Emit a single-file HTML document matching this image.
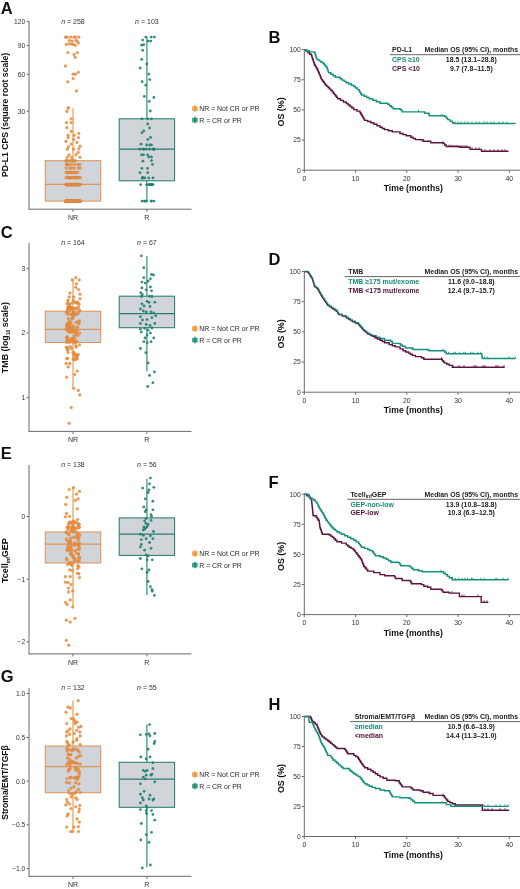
<!DOCTYPE html>
<html><head><meta charset="utf-8"><style>
html,body{margin:0;padding:0;background:#fff;}
svg{display:block;font-family:"Liberation Sans", sans-serif;will-change:transform;}
</style></head><body>
<svg width="520" height="889" viewBox="0 0 520 889">
<rect width="520" height="889" fill="#fff"/>
<text x="0.70" y="14.30" font-size="16.5" text-anchor="start" font-weight="bold" fill="#111" >A</text>
<line x1="29.00" y1="21.30" x2="29.00" y2="209.20" stroke="#6a6a6a" stroke-width="1"/>
<line x1="28.50" y1="209.20" x2="191.50" y2="209.20" stroke="#6a6a6a" stroke-width="1"/>
<line x1="26.50" y1="21.30" x2="29.00" y2="21.30" stroke="#6a6a6a" stroke-width="1"/>
<text x="25.20" y="23.60" font-size="6.7" text-anchor="end" font-weight="normal" fill="#333" >120</text>
<line x1="26.50" y1="45.40" x2="29.00" y2="45.40" stroke="#6a6a6a" stroke-width="1"/>
<text x="25.20" y="47.70" font-size="6.7" text-anchor="end" font-weight="normal" fill="#333" >90</text>
<line x1="26.50" y1="74.30" x2="29.00" y2="74.30" stroke="#6a6a6a" stroke-width="1"/>
<text x="25.20" y="76.60" font-size="6.7" text-anchor="end" font-weight="normal" fill="#333" >60</text>
<line x1="26.50" y1="111.20" x2="29.00" y2="111.20" stroke="#6a6a6a" stroke-width="1"/>
<text x="25.20" y="113.50" font-size="6.7" text-anchor="end" font-weight="normal" fill="#333" >30</text>
<line x1="73.00" y1="209.20" x2="73.00" y2="211.70" stroke="#6a6a6a" stroke-width="1"/>
<text x="73.00" y="220.20" font-size="7" text-anchor="middle" font-weight="normal" fill="#333" >NR</text>
<line x1="146.90" y1="209.20" x2="146.90" y2="211.70" stroke="#6a6a6a" stroke-width="1"/>
<text x="146.90" y="220.20" font-size="7" text-anchor="middle" font-weight="normal" fill="#333" >R</text>
<text x="73.00" y="23.50" font-size="7" text-anchor="middle" font-weight="normal" fill="#333" ><tspan font-style="italic">n</tspan> = 258</text>
<text x="146.90" y="23.50" font-size="7" text-anchor="middle" font-weight="normal" fill="#333" ><tspan font-style="italic">n</tspan> = 103</text>
<text transform="translate(8.3,114.85) rotate(-90)" font-size="8.6" font-weight="bold" text-anchor="middle" fill="#111">PD-L1 CPS (square root scale)</text>
<line x1="73.00" y1="108.30" x2="73.00" y2="160.70" stroke="#f0922e" stroke-width="1.1"/>
<rect x="45.30" y="160.70" width="55.40" height="40.40" fill="#d1d4d8" stroke="#dc955c" stroke-width="1.05"/>
<line x1="45.30" y1="184.30" x2="100.70" y2="184.30" stroke="#dc955c" stroke-width="1.25"/>
<line x1="146.90" y1="36.60" x2="146.90" y2="118.80" stroke="#128a72" stroke-width="1.1"/>
<line x1="146.90" y1="180.80" x2="146.90" y2="201.10" stroke="#128a72" stroke-width="1.1"/>
<rect x="119.20" y="118.80" width="55.40" height="62.00" fill="#d1d4d8" stroke="#2a7d70" stroke-width="1.05"/>
<line x1="119.20" y1="149.20" x2="174.60" y2="149.20" stroke="#2a7d70" stroke-width="1.25"/>
<rect x="192.1" y="106.30" width="5.6" height="4.6" fill="#f0922e" opacity="0.8"/>
<rect x="194.3" y="105.20" width="1.4" height="6.6" fill="#f0922e" opacity="0.9"/>
<text x="199.20" y="111.00" font-size="6.95" text-anchor="start" font-weight="normal" fill="#2a2a2a" >NR = Not CR or PR</text>
<rect x="192.1" y="117.80" width="5.6" height="4.6" fill="#128a72" opacity="0.8"/>
<rect x="194.3" y="116.70" width="1.4" height="6.6" fill="#128a72" opacity="0.9"/>
<text x="199.20" y="122.50" font-size="6.95" text-anchor="start" font-weight="normal" fill="#2a2a2a" >R = CR or PR</text>
<text x="0.70" y="237.50" font-size="16.5" text-anchor="start" font-weight="bold" fill="#111" >C</text>
<line x1="29.00" y1="243.00" x2="29.00" y2="431.40" stroke="#6a6a6a" stroke-width="1"/>
<line x1="28.50" y1="431.40" x2="191.50" y2="431.40" stroke="#6a6a6a" stroke-width="1"/>
<line x1="26.50" y1="268.30" x2="29.00" y2="268.30" stroke="#6a6a6a" stroke-width="1"/>
<text x="25.20" y="270.60" font-size="6.7" text-anchor="end" font-weight="normal" fill="#333" >3</text>
<line x1="26.50" y1="333.00" x2="29.00" y2="333.00" stroke="#6a6a6a" stroke-width="1"/>
<text x="25.20" y="335.30" font-size="6.7" text-anchor="end" font-weight="normal" fill="#333" >2</text>
<line x1="26.50" y1="397.70" x2="29.00" y2="397.70" stroke="#6a6a6a" stroke-width="1"/>
<text x="25.20" y="400.00" font-size="6.7" text-anchor="end" font-weight="normal" fill="#333" >1</text>
<line x1="73.00" y1="431.40" x2="73.00" y2="433.90" stroke="#6a6a6a" stroke-width="1"/>
<text x="73.00" y="442.40" font-size="7" text-anchor="middle" font-weight="normal" fill="#333" >NR</text>
<line x1="146.90" y1="431.40" x2="146.90" y2="433.90" stroke="#6a6a6a" stroke-width="1"/>
<text x="146.90" y="442.40" font-size="7" text-anchor="middle" font-weight="normal" fill="#333" >R</text>
<text x="73.00" y="245.20" font-size="7" text-anchor="middle" font-weight="normal" fill="#333" ><tspan font-style="italic">n</tspan> = 164</text>
<text x="146.90" y="245.20" font-size="7" text-anchor="middle" font-weight="normal" fill="#333" ><tspan font-style="italic">n</tspan> = 67</text>
<text transform="translate(8.3,337.6) rotate(-90)" font-size="8.9" font-weight="bold" text-anchor="middle" fill="#111">TMB (log<tspan font-size="5" dy="2">10</tspan><tspan dy="-2"> scale)</tspan></text>
<line x1="73.00" y1="279.00" x2="73.00" y2="311.20" stroke="#f0922e" stroke-width="1.1"/>
<line x1="73.00" y1="342.50" x2="73.00" y2="387.70" stroke="#f0922e" stroke-width="1.1"/>
<rect x="45.30" y="311.20" width="55.40" height="31.30" fill="#d1d4d8" stroke="#dc955c" stroke-width="1.05"/>
<line x1="45.30" y1="329.40" x2="100.70" y2="329.40" stroke="#dc955c" stroke-width="1.25"/>
<line x1="146.90" y1="256.20" x2="146.90" y2="296.20" stroke="#128a72" stroke-width="1.1"/>
<line x1="146.90" y1="327.70" x2="146.90" y2="371.50" stroke="#128a72" stroke-width="1.1"/>
<rect x="119.20" y="296.20" width="55.40" height="31.50" fill="#d1d4d8" stroke="#2a7d70" stroke-width="1.05"/>
<line x1="119.20" y1="313.50" x2="174.60" y2="313.50" stroke="#2a7d70" stroke-width="1.25"/>
<rect x="192.1" y="326.30" width="5.6" height="4.6" fill="#f0922e" opacity="0.8"/>
<rect x="194.3" y="325.20" width="1.4" height="6.6" fill="#f0922e" opacity="0.9"/>
<text x="199.20" y="331.00" font-size="6.95" text-anchor="start" font-weight="normal" fill="#2a2a2a" >NR = Not CR or PR</text>
<rect x="192.1" y="337.80" width="5.6" height="4.6" fill="#128a72" opacity="0.8"/>
<rect x="194.3" y="336.70" width="1.4" height="6.6" fill="#128a72" opacity="0.9"/>
<text x="199.20" y="342.50" font-size="6.95" text-anchor="start" font-weight="normal" fill="#2a2a2a" >R = CR or PR</text>
<text x="0.70" y="459.20" font-size="16.5" text-anchor="start" font-weight="bold" fill="#111" >E</text>
<line x1="29.00" y1="465.00" x2="29.00" y2="653.90" stroke="#6a6a6a" stroke-width="1"/>
<line x1="28.50" y1="653.90" x2="191.50" y2="653.90" stroke="#6a6a6a" stroke-width="1"/>
<line x1="26.50" y1="516.50" x2="29.00" y2="516.50" stroke="#6a6a6a" stroke-width="1"/>
<text x="25.20" y="518.80" font-size="6.7" text-anchor="end" font-weight="normal" fill="#333" >0</text>
<line x1="26.50" y1="579.20" x2="29.00" y2="579.20" stroke="#6a6a6a" stroke-width="1"/>
<text x="25.20" y="581.50" font-size="6.7" text-anchor="end" font-weight="normal" fill="#333" >−1</text>
<line x1="26.50" y1="641.90" x2="29.00" y2="641.90" stroke="#6a6a6a" stroke-width="1"/>
<text x="25.20" y="644.20" font-size="6.7" text-anchor="end" font-weight="normal" fill="#333" >−2</text>
<line x1="73.00" y1="653.90" x2="73.00" y2="656.40" stroke="#6a6a6a" stroke-width="1"/>
<text x="73.00" y="664.90" font-size="7" text-anchor="middle" font-weight="normal" fill="#333" >NR</text>
<line x1="146.90" y1="653.90" x2="146.90" y2="656.40" stroke="#6a6a6a" stroke-width="1"/>
<text x="146.90" y="664.90" font-size="7" text-anchor="middle" font-weight="normal" fill="#333" >R</text>
<text x="73.00" y="467.20" font-size="7" text-anchor="middle" font-weight="normal" fill="#333" ><tspan font-style="italic">n</tspan> = 138</text>
<text x="146.90" y="467.20" font-size="7" text-anchor="middle" font-weight="normal" fill="#333" ><tspan font-style="italic">n</tspan> = 56</text>
<text transform="translate(8.3,560.6) rotate(-90)" font-size="9" font-weight="bold" text-anchor="middle" fill="#111">Tcell<tspan font-size="5" dy="2">inf</tspan><tspan dy="-2">GEP</tspan></text>
<line x1="73.00" y1="487.00" x2="73.00" y2="532.00" stroke="#f0922e" stroke-width="1.1"/>
<line x1="73.00" y1="563.00" x2="73.00" y2="607.70" stroke="#f0922e" stroke-width="1.1"/>
<rect x="45.30" y="532.00" width="55.40" height="31.00" fill="#d1d4d8" stroke="#dc955c" stroke-width="1.05"/>
<line x1="45.30" y1="544.20" x2="100.70" y2="544.20" stroke="#dc955c" stroke-width="1.25"/>
<line x1="146.90" y1="478.70" x2="146.90" y2="517.90" stroke="#128a72" stroke-width="1.1"/>
<line x1="146.90" y1="555.40" x2="146.90" y2="595.00" stroke="#128a72" stroke-width="1.1"/>
<rect x="119.20" y="517.90" width="55.40" height="37.50" fill="#d1d4d8" stroke="#2a7d70" stroke-width="1.05"/>
<line x1="119.20" y1="534.20" x2="174.60" y2="534.20" stroke="#2a7d70" stroke-width="1.25"/>
<rect x="192.1" y="551.30" width="5.6" height="4.6" fill="#f0922e" opacity="0.8"/>
<rect x="194.3" y="550.20" width="1.4" height="6.6" fill="#f0922e" opacity="0.9"/>
<text x="199.20" y="556.00" font-size="6.95" text-anchor="start" font-weight="normal" fill="#2a2a2a" >NR = Not CR or PR</text>
<rect x="192.1" y="562.80" width="5.6" height="4.6" fill="#128a72" opacity="0.8"/>
<rect x="194.3" y="561.70" width="1.4" height="6.6" fill="#128a72" opacity="0.9"/>
<text x="199.20" y="567.50" font-size="6.95" text-anchor="start" font-weight="normal" fill="#2a2a2a" >R = CR or PR</text>
<text x="0.70" y="682.00" font-size="16.5" text-anchor="start" font-weight="bold" fill="#111" >G</text>
<line x1="29.00" y1="688.00" x2="29.00" y2="876.30" stroke="#6a6a6a" stroke-width="1"/>
<line x1="28.50" y1="876.30" x2="191.50" y2="876.30" stroke="#6a6a6a" stroke-width="1"/>
<line x1="26.50" y1="693.60" x2="29.00" y2="693.60" stroke="#6a6a6a" stroke-width="1"/>
<text x="25.20" y="695.90" font-size="6.7" text-anchor="end" font-weight="normal" fill="#333" >1.0</text>
<line x1="26.50" y1="737.50" x2="29.00" y2="737.50" stroke="#6a6a6a" stroke-width="1"/>
<text x="25.20" y="739.80" font-size="6.7" text-anchor="end" font-weight="normal" fill="#333" >0.5</text>
<line x1="26.50" y1="781.20" x2="29.00" y2="781.20" stroke="#6a6a6a" stroke-width="1"/>
<text x="25.20" y="783.50" font-size="6.7" text-anchor="end" font-weight="normal" fill="#333" >0.0</text>
<line x1="26.50" y1="824.90" x2="29.00" y2="824.90" stroke="#6a6a6a" stroke-width="1"/>
<text x="25.20" y="827.20" font-size="6.7" text-anchor="end" font-weight="normal" fill="#333" >−0.5</text>
<line x1="26.50" y1="868.60" x2="29.00" y2="868.60" stroke="#6a6a6a" stroke-width="1"/>
<text x="25.20" y="870.90" font-size="6.7" text-anchor="end" font-weight="normal" fill="#333" >−1.0</text>
<line x1="73.00" y1="876.30" x2="73.00" y2="878.80" stroke="#6a6a6a" stroke-width="1"/>
<text x="73.00" y="887.30" font-size="7" text-anchor="middle" font-weight="normal" fill="#333" >NR</text>
<line x1="146.90" y1="876.30" x2="146.90" y2="878.80" stroke="#6a6a6a" stroke-width="1"/>
<text x="146.90" y="887.30" font-size="7" text-anchor="middle" font-weight="normal" fill="#333" >R</text>
<text x="73.00" y="690.20" font-size="7" text-anchor="middle" font-weight="normal" fill="#333" ><tspan font-style="italic">n</tspan> = 132</text>
<text x="146.90" y="690.20" font-size="7" text-anchor="middle" font-weight="normal" fill="#333" ><tspan font-style="italic">n</tspan> = 55</text>
<text transform="translate(8.3,782.5) rotate(-90)" font-size="8.56" font-weight="bold" text-anchor="middle" fill="#111">Stroma/EMT/TGFβ</text>
<line x1="73.00" y1="700.40" x2="73.00" y2="746.00" stroke="#f0922e" stroke-width="1.1"/>
<line x1="73.00" y1="792.70" x2="73.00" y2="832.00" stroke="#f0922e" stroke-width="1.1"/>
<rect x="45.30" y="746.00" width="55.40" height="46.70" fill="#d1d4d8" stroke="#dc955c" stroke-width="1.05"/>
<line x1="45.30" y1="766.70" x2="100.70" y2="766.70" stroke="#dc955c" stroke-width="1.25"/>
<line x1="146.90" y1="724.60" x2="146.90" y2="762.30" stroke="#128a72" stroke-width="1.1"/>
<line x1="146.90" y1="807.30" x2="146.90" y2="867.30" stroke="#128a72" stroke-width="1.1"/>
<rect x="119.20" y="762.30" width="55.40" height="45.00" fill="#d1d4d8" stroke="#2a7d70" stroke-width="1.05"/>
<line x1="119.20" y1="779.00" x2="174.60" y2="779.00" stroke="#2a7d70" stroke-width="1.25"/>
<rect x="192.1" y="772.30" width="5.6" height="4.6" fill="#f0922e" opacity="0.8"/>
<rect x="194.3" y="771.20" width="1.4" height="6.6" fill="#f0922e" opacity="0.9"/>
<text x="199.20" y="777.00" font-size="6.95" text-anchor="start" font-weight="normal" fill="#2a2a2a" >NR = Not CR or PR</text>
<rect x="192.1" y="783.80" width="5.6" height="4.6" fill="#128a72" opacity="0.8"/>
<rect x="194.3" y="782.70" width="1.4" height="6.6" fill="#128a72" opacity="0.9"/>
<text x="199.20" y="788.50" font-size="6.95" text-anchor="start" font-weight="normal" fill="#2a2a2a" >R = CR or PR</text>
<g fill="#ef8f35" fill-opacity="0.9" stroke="#c58050" stroke-width="0.35" stroke-opacity="0.8"><circle cx="67.00" cy="37.20" r="1.4"/><circle cx="70.50" cy="37.20" r="1.4"/><circle cx="72.00" cy="44.20" r="1.4"/><circle cx="77.00" cy="41.00" r="1.4"/><circle cx="65.40" cy="37.20" r="1.4"/><circle cx="74.00" cy="37.20" r="1.4"/><circle cx="75.50" cy="37.20" r="1.4"/><circle cx="78.80" cy="37.20" r="1.4"/><circle cx="69.20" cy="40.60" r="1.4"/><circle cx="72.10" cy="41.10" r="1.4"/><circle cx="76.00" cy="40.60" r="1.4"/><circle cx="66.30" cy="44.40" r="1.4"/><circle cx="69.20" cy="44.00" r="1.4"/><circle cx="73.10" cy="44.40" r="1.4"/><circle cx="75.50" cy="45.40" r="1.4"/><circle cx="78.40" cy="43.00" r="1.4"/><circle cx="67.80" cy="52.60" r="1.4"/><circle cx="74.00" cy="54.50" r="1.4"/><circle cx="77.40" cy="52.60" r="1.4"/><circle cx="75.20" cy="57.40" r="1.4"/><circle cx="65.40" cy="66.00" r="1.4"/><circle cx="73.10" cy="74.20" r="1.4"/><circle cx="75.50" cy="74.20" r="1.4"/><circle cx="78.40" cy="72.30" r="1.4"/><circle cx="73.10" cy="78.60" r="1.4"/><circle cx="67.80" cy="81.90" r="1.4"/><circle cx="76.40" cy="91.00" r="1.4"/><circle cx="68.30" cy="107.90" r="1.4"/><circle cx="68.10" cy="108.10" r="1.4"/><circle cx="66.90" cy="111.50" r="1.4"/><circle cx="71.20" cy="118.80" r="1.4"/><circle cx="66.50" cy="122.70" r="1.4"/><circle cx="71.20" cy="122.70" r="1.4"/><circle cx="66.90" cy="127.70" r="1.4"/><circle cx="71.20" cy="131.50" r="1.4"/><circle cx="78.80" cy="133.50" r="1.4"/><circle cx="68.10" cy="135.40" r="1.4"/><circle cx="74.20" cy="135.40" r="1.4"/><circle cx="68.10" cy="137.70" r="1.4"/><circle cx="78.50" cy="137.70" r="1.4"/><circle cx="73.80" cy="139.60" r="1.4"/><circle cx="71.20" cy="144.20" r="1.4"/><circle cx="68.50" cy="146.90" r="1.4"/><circle cx="67.30" cy="149.20" r="1.4"/><circle cx="73.50" cy="149.20" r="1.4"/><circle cx="80.00" cy="146.20" r="1.4"/><circle cx="78.80" cy="148.80" r="1.4"/><circle cx="78.10" cy="152.30" r="1.4"/><circle cx="80.00" cy="157.30" r="1.4"/><circle cx="67.30" cy="157.30" r="1.4"/><circle cx="71.50" cy="157.30" r="1.4"/><circle cx="69.00" cy="154.80" r="1.4"/><circle cx="76.00" cy="154.80" r="1.4"/><circle cx="66.00" cy="141.50" r="1.4"/><circle cx="77.00" cy="142.50" r="1.4"/><circle cx="70.36" cy="160.80" r="1.4"/><circle cx="67.76" cy="160.80" r="1.4"/><circle cx="75.26" cy="160.80" r="1.4"/><circle cx="66.59" cy="160.80" r="1.4"/><circle cx="73.54" cy="160.80" r="1.4"/><circle cx="70.99" cy="160.80" r="1.4"/><circle cx="66.37" cy="160.80" r="1.4"/><circle cx="73.11" cy="160.80" r="1.4"/><circle cx="66.06" cy="160.80" r="1.4"/><circle cx="72.00" cy="160.80" r="1.4"/><circle cx="66.55" cy="164.60" r="1.4"/><circle cx="66.86" cy="164.60" r="1.4"/><circle cx="71.87" cy="164.60" r="1.4"/><circle cx="77.90" cy="164.60" r="1.4"/><circle cx="67.36" cy="164.60" r="1.4"/><circle cx="68.85" cy="164.60" r="1.4"/><circle cx="74.91" cy="164.60" r="1.4"/><circle cx="79.72" cy="164.60" r="1.4"/><circle cx="74.16" cy="168.10" r="1.4"/><circle cx="71.45" cy="168.10" r="1.4"/><circle cx="80.14" cy="168.10" r="1.4"/><circle cx="66.20" cy="168.10" r="1.4"/><circle cx="78.38" cy="168.10" r="1.4"/><circle cx="69.84" cy="168.10" r="1.4"/><circle cx="67.66" cy="172.50" r="1.4"/><circle cx="67.27" cy="172.50" r="1.4"/><circle cx="70.13" cy="172.50" r="1.4"/><circle cx="77.74" cy="172.50" r="1.4"/><circle cx="68.21" cy="172.50" r="1.4"/><circle cx="74.22" cy="172.50" r="1.4"/><circle cx="75.08" cy="172.50" r="1.4"/><circle cx="71.09" cy="172.50" r="1.4"/><circle cx="73.72" cy="172.50" r="1.4"/><circle cx="66.44" cy="172.50" r="1.4"/><circle cx="66.39" cy="172.50" r="1.4"/><circle cx="68.59" cy="172.50" r="1.4"/><circle cx="75.71" cy="172.50" r="1.4"/><circle cx="71.91" cy="172.50" r="1.4"/><circle cx="70.21" cy="172.50" r="1.4"/><circle cx="74.28" cy="172.50" r="1.4"/><circle cx="72.30" cy="177.70" r="1.4"/><circle cx="70.00" cy="177.70" r="1.4"/><circle cx="77.42" cy="177.70" r="1.4"/><circle cx="75.98" cy="177.70" r="1.4"/><circle cx="69.16" cy="177.70" r="1.4"/><circle cx="74.12" cy="177.70" r="1.4"/><circle cx="73.38" cy="177.70" r="1.4"/><circle cx="78.63" cy="177.70" r="1.4"/><circle cx="76.44" cy="177.70" r="1.4"/><circle cx="69.82" cy="177.70" r="1.4"/><circle cx="80.20" cy="177.70" r="1.4"/><circle cx="67.27" cy="177.70" r="1.4"/><circle cx="71.77" cy="177.70" r="1.4"/><circle cx="76.86" cy="177.70" r="1.4"/><circle cx="67.78" cy="177.70" r="1.4"/><circle cx="72.83" cy="177.70" r="1.4"/><circle cx="66.09" cy="177.70" r="1.4"/><circle cx="75.52" cy="177.70" r="1.4"/><circle cx="76.97" cy="177.70" r="1.4"/><circle cx="74.10" cy="177.70" r="1.4"/><circle cx="78.63" cy="184.60" r="1.4"/><circle cx="70.21" cy="184.60" r="1.4"/><circle cx="75.93" cy="184.60" r="1.4"/><circle cx="74.42" cy="184.60" r="1.4"/><circle cx="74.20" cy="184.60" r="1.4"/><circle cx="72.34" cy="184.60" r="1.4"/><circle cx="78.10" cy="184.60" r="1.4"/><circle cx="79.67" cy="184.60" r="1.4"/><circle cx="72.61" cy="184.60" r="1.4"/><circle cx="75.46" cy="184.60" r="1.4"/><circle cx="66.41" cy="184.60" r="1.4"/><circle cx="76.02" cy="184.60" r="1.4"/><circle cx="75.21" cy="184.60" r="1.4"/><circle cx="80.40" cy="184.60" r="1.4"/><circle cx="77.83" cy="184.60" r="1.4"/><circle cx="69.77" cy="184.60" r="1.4"/><circle cx="71.29" cy="184.60" r="1.4"/><circle cx="75.53" cy="184.60" r="1.4"/><circle cx="65.84" cy="184.60" r="1.4"/><circle cx="72.43" cy="184.60" r="1.4"/><circle cx="68.02" cy="184.60" r="1.4"/><circle cx="67.26" cy="184.60" r="1.4"/><circle cx="66.38" cy="184.60" r="1.4"/><circle cx="77.02" cy="184.60" r="1.4"/><circle cx="67.44" cy="184.60" r="1.4"/><circle cx="69.21" cy="184.60" r="1.4"/><circle cx="71.36" cy="184.60" r="1.4"/><circle cx="78.57" cy="184.60" r="1.4"/><circle cx="66.71" cy="184.60" r="1.4"/><circle cx="72.24" cy="184.60" r="1.4"/><circle cx="73.74" cy="184.60" r="1.4"/><circle cx="78.75" cy="184.60" r="1.4"/><circle cx="77.79" cy="184.60" r="1.4"/><circle cx="78.46" cy="184.60" r="1.4"/><circle cx="69.68" cy="184.60" r="1.4"/><circle cx="71.73" cy="184.60" r="1.4"/><circle cx="70.88" cy="184.60" r="1.4"/><circle cx="78.76" cy="184.60" r="1.4"/><circle cx="79.87" cy="184.60" r="1.4"/><circle cx="67.76" cy="184.60" r="1.4"/><circle cx="68.14" cy="184.60" r="1.4"/><circle cx="68.98" cy="184.60" r="1.4"/><circle cx="69.00" cy="184.60" r="1.4"/><circle cx="72.77" cy="184.60" r="1.4"/><circle cx="74.34" cy="184.60" r="1.4"/><circle cx="69.44" cy="201.20" r="1.4"/><circle cx="65.56" cy="201.20" r="1.4"/><circle cx="71.78" cy="201.20" r="1.4"/><circle cx="71.04" cy="201.20" r="1.4"/><circle cx="74.00" cy="201.20" r="1.4"/><circle cx="79.80" cy="201.20" r="1.4"/><circle cx="75.86" cy="201.20" r="1.4"/><circle cx="73.23" cy="201.20" r="1.4"/><circle cx="74.76" cy="201.20" r="1.4"/><circle cx="75.64" cy="201.20" r="1.4"/><circle cx="66.31" cy="201.20" r="1.4"/><circle cx="78.99" cy="201.20" r="1.4"/><circle cx="77.20" cy="201.20" r="1.4"/><circle cx="78.62" cy="201.20" r="1.4"/><circle cx="77.47" cy="201.20" r="1.4"/><circle cx="71.39" cy="201.20" r="1.4"/><circle cx="71.48" cy="201.20" r="1.4"/><circle cx="67.05" cy="201.20" r="1.4"/><circle cx="75.01" cy="201.20" r="1.4"/><circle cx="66.43" cy="201.20" r="1.4"/><circle cx="66.51" cy="201.20" r="1.4"/><circle cx="68.63" cy="201.20" r="1.4"/><circle cx="67.93" cy="201.20" r="1.4"/><circle cx="70.60" cy="201.20" r="1.4"/><circle cx="66.29" cy="201.20" r="1.4"/><circle cx="65.50" cy="201.20" r="1.4"/><circle cx="67.77" cy="201.20" r="1.4"/><circle cx="67.02" cy="201.20" r="1.4"/><circle cx="70.95" cy="201.20" r="1.4"/><circle cx="65.88" cy="201.20" r="1.4"/><circle cx="78.61" cy="201.20" r="1.4"/><circle cx="74.71" cy="201.20" r="1.4"/><circle cx="67.73" cy="201.20" r="1.4"/><circle cx="69.28" cy="201.20" r="1.4"/><circle cx="70.71" cy="201.20" r="1.4"/><circle cx="70.96" cy="201.20" r="1.4"/><circle cx="67.34" cy="201.20" r="1.4"/><circle cx="78.23" cy="201.20" r="1.4"/><circle cx="80.40" cy="201.20" r="1.4"/><circle cx="72.49" cy="201.20" r="1.4"/><circle cx="72.76" cy="201.20" r="1.4"/><circle cx="66.79" cy="201.20" r="1.4"/><circle cx="67.03" cy="201.20" r="1.4"/><circle cx="70.64" cy="201.20" r="1.4"/><circle cx="69.47" cy="201.20" r="1.4"/><circle cx="77.93" cy="201.20" r="1.4"/><circle cx="67.92" cy="201.20" r="1.4"/><circle cx="65.85" cy="201.20" r="1.4"/><circle cx="79.76" cy="201.20" r="1.4"/><circle cx="73.42" cy="201.20" r="1.4"/><circle cx="67.70" cy="201.20" r="1.4"/><circle cx="73.65" cy="201.20" r="1.4"/><circle cx="65.91" cy="201.20" r="1.4"/><circle cx="73.42" cy="201.20" r="1.4"/><circle cx="80.18" cy="201.20" r="1.4"/><circle cx="78.45" cy="201.20" r="1.4"/><circle cx="75.94" cy="201.20" r="1.4"/><circle cx="69.42" cy="201.20" r="1.4"/><circle cx="71.00" cy="201.20" r="1.4"/><circle cx="68.01" cy="201.20" r="1.4"/><circle cx="77.08" cy="201.20" r="1.4"/><circle cx="73.49" cy="201.20" r="1.4"/><circle cx="77.19" cy="201.20" r="1.4"/><circle cx="70.44" cy="201.20" r="1.4"/><circle cx="68.85" cy="201.20" r="1.4"/><circle cx="77.67" cy="201.20" r="1.4"/><circle cx="80.27" cy="201.20" r="1.4"/><circle cx="78.29" cy="201.20" r="1.4"/><circle cx="77.59" cy="201.20" r="1.4"/><circle cx="77.77" cy="201.20" r="1.4"/><circle cx="76.60" cy="201.20" r="1.4"/><circle cx="68.90" cy="201.20" r="1.4"/><circle cx="73.26" cy="201.20" r="1.4"/><circle cx="70.83" cy="201.20" r="1.4"/><circle cx="65.93" cy="201.20" r="1.4"/><circle cx="75.80" cy="277.70" r="1.4"/><circle cx="72.30" cy="280.00" r="1.4"/><circle cx="79.20" cy="280.00" r="1.4"/><circle cx="76.50" cy="283.80" r="1.4"/><circle cx="75.80" cy="287.30" r="1.4"/><circle cx="78.50" cy="289.60" r="1.4"/><circle cx="70.00" cy="293.10" r="1.4"/><circle cx="80.00" cy="294.20" r="1.4"/><circle cx="69.20" cy="296.90" r="1.4"/><circle cx="80.00" cy="298.80" r="1.4"/><circle cx="73.80" cy="296.90" r="1.4"/><circle cx="66.10" cy="363.50" r="1.4"/><circle cx="69.70" cy="363.50" r="1.4"/><circle cx="68.20" cy="367.00" r="1.4"/><circle cx="77.30" cy="371.10" r="1.4"/><circle cx="74.80" cy="374.60" r="1.4"/><circle cx="66.70" cy="377.20" r="1.4"/><circle cx="73.70" cy="388.30" r="1.4"/><circle cx="78.30" cy="390.40" r="1.4"/><circle cx="79.80" cy="394.90" r="1.4"/><circle cx="71.20" cy="407.60" r="1.4"/><circle cx="69.20" cy="423.30" r="1.4"/><circle cx="71.66" cy="315.15" r="1.4"/><circle cx="76.06" cy="302.72" r="1.4"/><circle cx="67.93" cy="302.42" r="1.4"/><circle cx="78.51" cy="312.90" r="1.4"/><circle cx="68.19" cy="313.22" r="1.4"/><circle cx="79.53" cy="310.52" r="1.4"/><circle cx="70.97" cy="308.78" r="1.4"/><circle cx="67.98" cy="300.23" r="1.4"/><circle cx="79.40" cy="310.39" r="1.4"/><circle cx="73.36" cy="314.94" r="1.4"/><circle cx="72.10" cy="313.95" r="1.4"/><circle cx="77.44" cy="303.38" r="1.4"/><circle cx="69.62" cy="304.69" r="1.4"/><circle cx="69.47" cy="309.38" r="1.4"/><circle cx="69.73" cy="306.70" r="1.4"/><circle cx="67.98" cy="314.56" r="1.4"/><circle cx="71.01" cy="307.33" r="1.4"/><circle cx="74.13" cy="314.47" r="1.4"/><circle cx="71.92" cy="314.68" r="1.4"/><circle cx="73.02" cy="308.51" r="1.4"/><circle cx="73.32" cy="300.30" r="1.4"/><circle cx="72.19" cy="302.93" r="1.4"/><circle cx="66.25" cy="312.79" r="1.4"/><circle cx="68.54" cy="307.58" r="1.4"/><circle cx="76.06" cy="308.90" r="1.4"/><circle cx="70.63" cy="308.29" r="1.4"/><circle cx="73.75" cy="312.55" r="1.4"/><circle cx="67.64" cy="308.96" r="1.4"/><circle cx="69.58" cy="304.43" r="1.4"/><circle cx="76.70" cy="308.12" r="1.4"/><circle cx="73.84" cy="312.16" r="1.4"/><circle cx="78.61" cy="307.09" r="1.4"/><circle cx="74.53" cy="308.09" r="1.4"/><circle cx="73.17" cy="311.08" r="1.4"/><circle cx="72.35" cy="308.53" r="1.4"/><circle cx="72.70" cy="315.06" r="1.4"/><circle cx="75.71" cy="314.02" r="1.4"/><circle cx="79.01" cy="304.15" r="1.4"/><circle cx="73.81" cy="315.09" r="1.4"/><circle cx="77.62" cy="302.19" r="1.4"/><circle cx="67.85" cy="307.07" r="1.4"/><circle cx="67.19" cy="303.85" r="1.4"/><circle cx="67.19" cy="310.71" r="1.4"/><circle cx="76.86" cy="314.35" r="1.4"/><circle cx="68.30" cy="311.46" r="1.4"/><circle cx="75.18" cy="302.29" r="1.4"/><circle cx="78.21" cy="321.81" r="1.4"/><circle cx="69.19" cy="321.72" r="1.4"/><circle cx="71.62" cy="318.92" r="1.4"/><circle cx="79.66" cy="320.99" r="1.4"/><circle cx="68.40" cy="318.59" r="1.4"/><circle cx="73.21" cy="318.03" r="1.4"/><circle cx="68.86" cy="328.37" r="1.4"/><circle cx="76.02" cy="322.39" r="1.4"/><circle cx="73.74" cy="330.81" r="1.4"/><circle cx="66.45" cy="328.63" r="1.4"/><circle cx="74.69" cy="332.25" r="1.4"/><circle cx="67.07" cy="341.70" r="1.4"/><circle cx="76.92" cy="341.43" r="1.4"/><circle cx="67.63" cy="327.31" r="1.4"/><circle cx="66.74" cy="337.58" r="1.4"/><circle cx="69.88" cy="324.59" r="1.4"/><circle cx="71.94" cy="340.23" r="1.4"/><circle cx="77.34" cy="327.17" r="1.4"/><circle cx="68.23" cy="340.38" r="1.4"/><circle cx="73.96" cy="336.01" r="1.4"/><circle cx="67.42" cy="323.15" r="1.4"/><circle cx="75.56" cy="330.51" r="1.4"/><circle cx="67.18" cy="340.77" r="1.4"/><circle cx="74.83" cy="338.03" r="1.4"/><circle cx="67.34" cy="339.12" r="1.4"/><circle cx="67.11" cy="339.26" r="1.4"/><circle cx="72.37" cy="328.78" r="1.4"/><circle cx="73.72" cy="340.53" r="1.4"/><circle cx="69.84" cy="324.58" r="1.4"/><circle cx="73.37" cy="326.77" r="1.4"/><circle cx="67.69" cy="325.23" r="1.4"/><circle cx="66.89" cy="326.04" r="1.4"/><circle cx="70.44" cy="328.10" r="1.4"/><circle cx="76.53" cy="327.80" r="1.4"/><circle cx="73.00" cy="325.56" r="1.4"/><circle cx="70.92" cy="322.36" r="1.4"/><circle cx="69.61" cy="322.31" r="1.4"/><circle cx="76.17" cy="333.02" r="1.4"/><circle cx="68.78" cy="331.50" r="1.4"/><circle cx="78.91" cy="324.13" r="1.4"/><circle cx="77.34" cy="330.64" r="1.4"/><circle cx="72.93" cy="338.69" r="1.4"/><circle cx="71.55" cy="332.13" r="1.4"/><circle cx="75.55" cy="341.65" r="1.4"/><circle cx="70.86" cy="338.65" r="1.4"/><circle cx="75.81" cy="334.72" r="1.4"/><circle cx="71.70" cy="328.95" r="1.4"/><circle cx="66.94" cy="324.60" r="1.4"/><circle cx="67.16" cy="336.82" r="1.4"/><circle cx="69.68" cy="325.26" r="1.4"/><circle cx="67.35" cy="338.83" r="1.4"/><circle cx="78.04" cy="335.41" r="1.4"/><circle cx="70.03" cy="326.84" r="1.4"/><circle cx="70.19" cy="331.19" r="1.4"/><circle cx="68.34" cy="330.92" r="1.4"/><circle cx="69.78" cy="341.24" r="1.4"/><circle cx="79.43" cy="332.94" r="1.4"/><circle cx="69.52" cy="341.31" r="1.4"/><circle cx="70.41" cy="329.13" r="1.4"/><circle cx="66.21" cy="329.63" r="1.4"/><circle cx="72.66" cy="332.06" r="1.4"/><circle cx="68.93" cy="332.09" r="1.4"/><circle cx="66.27" cy="347.28" r="1.4"/><circle cx="67.42" cy="349.99" r="1.4"/><circle cx="66.77" cy="342.45" r="1.4"/><circle cx="70.34" cy="346.66" r="1.4"/><circle cx="74.16" cy="352.58" r="1.4"/><circle cx="76.41" cy="355.15" r="1.4"/><circle cx="75.94" cy="359.58" r="1.4"/><circle cx="71.50" cy="348.52" r="1.4"/><circle cx="79.59" cy="344.99" r="1.4"/><circle cx="76.05" cy="354.86" r="1.4"/><circle cx="66.80" cy="358.71" r="1.4"/><circle cx="78.33" cy="354.55" r="1.4"/><circle cx="76.18" cy="358.24" r="1.4"/><circle cx="68.09" cy="352.48" r="1.4"/><circle cx="73.06" cy="358.70" r="1.4"/><circle cx="77.14" cy="358.53" r="1.4"/><circle cx="74.14" cy="359.86" r="1.4"/><circle cx="75.49" cy="355.87" r="1.4"/><circle cx="69.33" cy="342.62" r="1.4"/><circle cx="68.01" cy="349.21" r="1.4"/><circle cx="67.63" cy="358.72" r="1.4"/><circle cx="73.80" cy="354.56" r="1.4"/><circle cx="74.72" cy="355.61" r="1.4"/><circle cx="72.85" cy="342.07" r="1.4"/><circle cx="77.05" cy="356.97" r="1.4"/><circle cx="73.04" cy="352.70" r="1.4"/><circle cx="75.17" cy="343.32" r="1.4"/><circle cx="76.22" cy="347.04" r="1.4"/><circle cx="67.21" cy="347.31" r="1.4"/><circle cx="76.12" cy="346.10" r="1.4"/><circle cx="73.50" cy="487.70" r="1.4"/><circle cx="69.20" cy="489.60" r="1.4"/><circle cx="79.50" cy="491.40" r="1.4"/><circle cx="76.50" cy="494.20" r="1.4"/><circle cx="66.90" cy="497.30" r="1.4"/><circle cx="78.10" cy="498.80" r="1.4"/><circle cx="75.40" cy="500.40" r="1.4"/><circle cx="65.80" cy="504.60" r="1.4"/><circle cx="77.30" cy="508.80" r="1.4"/><circle cx="66.50" cy="513.50" r="1.4"/><circle cx="65.40" cy="516.90" r="1.4"/><circle cx="69.60" cy="516.50" r="1.4"/><circle cx="77.70" cy="519.60" r="1.4"/><circle cx="67.70" cy="564.50" r="1.4"/><circle cx="70.60" cy="564.00" r="1.4"/><circle cx="71.90" cy="565.30" r="1.4"/><circle cx="77.80" cy="565.70" r="1.4"/><circle cx="79.00" cy="566.60" r="1.4"/><circle cx="77.80" cy="568.70" r="1.4"/><circle cx="69.80" cy="570.00" r="1.4"/><circle cx="72.30" cy="570.40" r="1.4"/><circle cx="77.40" cy="573.30" r="1.4"/><circle cx="79.00" cy="573.80" r="1.4"/><circle cx="65.50" cy="576.70" r="1.4"/><circle cx="70.20" cy="576.70" r="1.4"/><circle cx="79.50" cy="577.60" r="1.4"/><circle cx="65.50" cy="582.20" r="1.4"/><circle cx="68.10" cy="582.60" r="1.4"/><circle cx="71.00" cy="584.70" r="1.4"/><circle cx="68.50" cy="588.10" r="1.4"/><circle cx="72.70" cy="591.10" r="1.4"/><circle cx="68.50" cy="591.90" r="1.4"/><circle cx="70.20" cy="599.90" r="1.4"/><circle cx="65.50" cy="602.40" r="1.4"/><circle cx="67.20" cy="604.60" r="1.4"/><circle cx="72.70" cy="607.10" r="1.4"/><circle cx="66.30" cy="620.20" r="1.4"/><circle cx="70.20" cy="622.10" r="1.4"/><circle cx="75.00" cy="618.30" r="1.4"/><circle cx="66.30" cy="640.40" r="1.4"/><circle cx="68.80" cy="645.20" r="1.4"/><circle cx="76.26" cy="544.42" r="1.4"/><circle cx="72.92" cy="530.18" r="1.4"/><circle cx="72.71" cy="537.41" r="1.4"/><circle cx="76.63" cy="535.81" r="1.4"/><circle cx="74.94" cy="522.86" r="1.4"/><circle cx="68.20" cy="527.09" r="1.4"/><circle cx="76.31" cy="528.31" r="1.4"/><circle cx="73.92" cy="521.30" r="1.4"/><circle cx="67.02" cy="527.45" r="1.4"/><circle cx="75.34" cy="537.61" r="1.4"/><circle cx="75.39" cy="527.98" r="1.4"/><circle cx="73.22" cy="532.15" r="1.4"/><circle cx="72.54" cy="523.84" r="1.4"/><circle cx="78.35" cy="525.78" r="1.4"/><circle cx="79.50" cy="543.47" r="1.4"/><circle cx="66.44" cy="532.02" r="1.4"/><circle cx="77.35" cy="544.23" r="1.4"/><circle cx="72.31" cy="527.45" r="1.4"/><circle cx="69.05" cy="543.69" r="1.4"/><circle cx="69.07" cy="534.96" r="1.4"/><circle cx="68.13" cy="533.58" r="1.4"/><circle cx="79.16" cy="524.18" r="1.4"/><circle cx="77.35" cy="533.21" r="1.4"/><circle cx="78.26" cy="537.88" r="1.4"/><circle cx="69.35" cy="542.54" r="1.4"/><circle cx="72.81" cy="521.60" r="1.4"/><circle cx="66.25" cy="532.80" r="1.4"/><circle cx="72.33" cy="528.25" r="1.4"/><circle cx="68.11" cy="529.26" r="1.4"/><circle cx="70.50" cy="541.17" r="1.4"/><circle cx="66.22" cy="539.02" r="1.4"/><circle cx="77.61" cy="523.88" r="1.4"/><circle cx="78.80" cy="538.11" r="1.4"/><circle cx="78.46" cy="527.96" r="1.4"/><circle cx="71.26" cy="530.43" r="1.4"/><circle cx="79.78" cy="535.14" r="1.4"/><circle cx="71.11" cy="531.27" r="1.4"/><circle cx="69.94" cy="522.16" r="1.4"/><circle cx="67.58" cy="541.03" r="1.4"/><circle cx="70.08" cy="543.45" r="1.4"/><circle cx="69.59" cy="527.38" r="1.4"/><circle cx="73.15" cy="525.56" r="1.4"/><circle cx="71.28" cy="543.95" r="1.4"/><circle cx="78.23" cy="540.49" r="1.4"/><circle cx="74.78" cy="542.92" r="1.4"/><circle cx="78.99" cy="534.18" r="1.4"/><circle cx="75.99" cy="522.19" r="1.4"/><circle cx="76.16" cy="531.82" r="1.4"/><circle cx="76.44" cy="536.47" r="1.4"/><circle cx="70.09" cy="522.18" r="1.4"/><circle cx="78.80" cy="524.06" r="1.4"/><circle cx="72.62" cy="529.25" r="1.4"/><circle cx="70.25" cy="538.74" r="1.4"/><circle cx="79.48" cy="527.24" r="1.4"/><circle cx="75.12" cy="528.22" r="1.4"/><circle cx="73.78" cy="530.46" r="1.4"/><circle cx="68.48" cy="524.88" r="1.4"/><circle cx="69.03" cy="542.74" r="1.4"/><circle cx="72.96" cy="526.28" r="1.4"/><circle cx="78.53" cy="544.92" r="1.4"/><circle cx="72.32" cy="524.35" r="1.4"/><circle cx="68.82" cy="523.18" r="1.4"/><circle cx="70.85" cy="546.73" r="1.4"/><circle cx="69.45" cy="549.91" r="1.4"/><circle cx="73.95" cy="561.86" r="1.4"/><circle cx="76.40" cy="552.84" r="1.4"/><circle cx="71.83" cy="554.96" r="1.4"/><circle cx="71.33" cy="551.43" r="1.4"/><circle cx="67.04" cy="550.27" r="1.4"/><circle cx="79.36" cy="547.39" r="1.4"/><circle cx="73.05" cy="556.96" r="1.4"/><circle cx="77.93" cy="549.10" r="1.4"/><circle cx="69.89" cy="549.72" r="1.4"/><circle cx="71.64" cy="553.47" r="1.4"/><circle cx="79.17" cy="561.12" r="1.4"/><circle cx="78.07" cy="545.41" r="1.4"/><circle cx="66.64" cy="558.48" r="1.4"/><circle cx="78.38" cy="553.99" r="1.4"/><circle cx="74.19" cy="545.00" r="1.4"/><circle cx="71.52" cy="562.61" r="1.4"/><circle cx="77.43" cy="561.25" r="1.4"/><circle cx="79.42" cy="549.72" r="1.4"/><circle cx="67.68" cy="547.93" r="1.4"/><circle cx="73.30" cy="557.96" r="1.4"/><circle cx="79.00" cy="558.71" r="1.4"/><circle cx="75.00" cy="559.53" r="1.4"/><circle cx="72.42" cy="555.48" r="1.4"/><circle cx="66.74" cy="559.86" r="1.4"/><circle cx="69.36" cy="562.48" r="1.4"/><circle cx="74.98" cy="550.77" r="1.4"/><circle cx="67.94" cy="549.78" r="1.4"/><circle cx="74.85" cy="558.27" r="1.4"/><circle cx="67.73" cy="546.34" r="1.4"/><circle cx="73.33" cy="556.07" r="1.4"/><circle cx="71.48" cy="549.25" r="1.4"/><circle cx="74.37" cy="545.20" r="1.4"/><circle cx="70.30" cy="553.75" r="1.4"/><circle cx="79.24" cy="557.25" r="1.4"/><circle cx="78.22" cy="554.03" r="1.4"/><circle cx="69.39" cy="549.69" r="1.4"/><circle cx="79.26" cy="558.39" r="1.4"/><circle cx="70.38" cy="545.41" r="1.4"/><circle cx="78.20" cy="700.70" r="1.4"/><circle cx="68.00" cy="707.20" r="1.4"/><circle cx="70.40" cy="708.00" r="1.4"/><circle cx="66.00" cy="712.30" r="1.4"/><circle cx="77.00" cy="714.30" r="1.4"/><circle cx="71.10" cy="718.60" r="1.4"/><circle cx="73.50" cy="719.00" r="1.4"/><circle cx="74.70" cy="721.00" r="1.4"/><circle cx="77.00" cy="722.20" r="1.4"/><circle cx="66.80" cy="723.70" r="1.4"/><circle cx="75.10" cy="723.70" r="1.4"/><circle cx="81.00" cy="726.50" r="1.4"/><circle cx="78.60" cy="727.30" r="1.4"/><circle cx="70.00" cy="728.90" r="1.4"/><circle cx="68.00" cy="730.80" r="1.4"/><circle cx="66.80" cy="732.00" r="1.4"/><circle cx="76.70" cy="730.40" r="1.4"/><circle cx="79.80" cy="732.00" r="1.4"/><circle cx="69.60" cy="734.40" r="1.4"/><circle cx="74.30" cy="733.60" r="1.4"/><circle cx="66.40" cy="736.00" r="1.4"/><circle cx="80.20" cy="736.00" r="1.4"/><circle cx="77.00" cy="738.70" r="1.4"/><circle cx="76.70" cy="740.30" r="1.4"/><circle cx="66.80" cy="741.50" r="1.4"/><circle cx="67.60" cy="743.00" r="1.4"/><circle cx="73.10" cy="742.20" r="1.4"/><circle cx="80.20" cy="744.60" r="1.4"/><circle cx="66.80" cy="748.50" r="1.4"/><circle cx="68.80" cy="749.30" r="1.4"/><circle cx="72.30" cy="750.50" r="1.4"/><circle cx="77.80" cy="750.10" r="1.4"/><circle cx="67.20" cy="750.90" r="1.4"/><circle cx="67.60" cy="758.00" r="1.4"/><circle cx="70.00" cy="759.60" r="1.4"/><circle cx="71.50" cy="761.90" r="1.4"/><circle cx="76.30" cy="758.00" r="1.4"/><circle cx="78.60" cy="756.40" r="1.4"/><circle cx="80.60" cy="755.60" r="1.4"/><circle cx="69.20" cy="762.70" r="1.4"/><circle cx="74.70" cy="762.70" r="1.4"/><circle cx="68.50" cy="761.80" r="1.4"/><circle cx="73.00" cy="762.70" r="1.4"/><circle cx="76.60" cy="763.60" r="1.4"/><circle cx="80.20" cy="764.00" r="1.4"/><circle cx="66.70" cy="764.50" r="1.4"/><circle cx="70.30" cy="765.40" r="1.4"/><circle cx="75.70" cy="767.70" r="1.4"/><circle cx="78.40" cy="769.00" r="1.4"/><circle cx="68.50" cy="771.30" r="1.4"/><circle cx="79.30" cy="771.70" r="1.4"/><circle cx="70.80" cy="777.60" r="1.4"/><circle cx="74.40" cy="778.00" r="1.4"/><circle cx="76.60" cy="777.10" r="1.4"/><circle cx="66.70" cy="782.50" r="1.4"/><circle cx="69.40" cy="783.00" r="1.4"/><circle cx="75.70" cy="783.00" r="1.4"/><circle cx="78.90" cy="783.90" r="1.4"/><circle cx="73.90" cy="787.00" r="1.4"/><circle cx="69.40" cy="793.30" r="1.4"/><circle cx="72.10" cy="794.20" r="1.4"/><circle cx="74.80" cy="793.30" r="1.4"/><circle cx="80.20" cy="792.40" r="1.4"/><circle cx="71.20" cy="797.00" r="1.4"/><circle cx="75.70" cy="797.80" r="1.4"/><circle cx="77.10" cy="799.60" r="1.4"/><circle cx="66.70" cy="799.60" r="1.4"/><circle cx="67.60" cy="802.30" r="1.4"/><circle cx="69.40" cy="804.10" r="1.4"/><circle cx="65.80" cy="805.00" r="1.4"/><circle cx="79.80" cy="805.50" r="1.4"/><circle cx="79.30" cy="809.10" r="1.4"/><circle cx="75.70" cy="806.80" r="1.4"/><circle cx="70.80" cy="808.60" r="1.4"/><circle cx="78.90" cy="811.80" r="1.4"/><circle cx="68.10" cy="814.00" r="1.4"/><circle cx="67.20" cy="815.90" r="1.4"/><circle cx="77.10" cy="819.00" r="1.4"/><circle cx="79.30" cy="822.20" r="1.4"/><circle cx="66.70" cy="827.10" r="1.4"/><circle cx="73.90" cy="827.10" r="1.4"/><circle cx="78.40" cy="826.70" r="1.4"/><circle cx="70.80" cy="831.60" r="1.4"/><circle cx="72.60" cy="831.60" r="1.4"/><circle cx="78.40" cy="831.60" r="1.4"/><circle cx="72.98" cy="761.54" r="1.4"/><circle cx="71.91" cy="750.69" r="1.4"/><circle cx="75.28" cy="768.05" r="1.4"/><circle cx="69.28" cy="744.89" r="1.4"/><circle cx="70.80" cy="754.93" r="1.4"/><circle cx="75.48" cy="749.15" r="1.4"/><circle cx="77.04" cy="763.22" r="1.4"/><circle cx="73.07" cy="749.34" r="1.4"/><circle cx="79.39" cy="752.10" r="1.4"/><circle cx="77.35" cy="750.00" r="1.4"/><circle cx="69.21" cy="763.77" r="1.4"/><circle cx="70.21" cy="768.75" r="1.4"/><circle cx="72.94" cy="748.87" r="1.4"/><circle cx="69.24" cy="754.84" r="1.4"/><circle cx="75.25" cy="768.67" r="1.4"/><circle cx="68.19" cy="754.23" r="1.4"/><circle cx="69.10" cy="769.33" r="1.4"/><circle cx="68.13" cy="745.35" r="1.4"/><circle cx="67.02" cy="778.65" r="1.4"/><circle cx="78.42" cy="789.44" r="1.4"/><circle cx="76.17" cy="791.95" r="1.4"/><circle cx="78.87" cy="777.24" r="1.4"/><circle cx="68.72" cy="790.59" r="1.4"/><circle cx="76.35" cy="770.70" r="1.4"/><circle cx="75.24" cy="778.33" r="1.4"/><circle cx="71.28" cy="777.30" r="1.4"/><circle cx="68.50" cy="770.06" r="1.4"/><circle cx="70.01" cy="777.73" r="1.4"/><circle cx="79.20" cy="772.72" r="1.4"/><circle cx="79.31" cy="774.56" r="1.4"/><circle cx="71.05" cy="788.07" r="1.4"/><circle cx="77.38" cy="779.51" r="1.4"/></g>
<g fill="#1f806e" fill-opacity="0.9"><circle cx="145.80" cy="37.10" r="1.4"/><circle cx="151.30" cy="37.10" r="1.4"/><circle cx="154.40" cy="37.10" r="1.4"/><circle cx="142.70" cy="40.10" r="1.4"/><circle cx="148.30" cy="41.10" r="1.4"/><circle cx="150.80" cy="41.10" r="1.4"/><circle cx="141.70" cy="45.20" r="1.4"/><circle cx="143.70" cy="44.70" r="1.4"/><circle cx="142.70" cy="50.30" r="1.4"/><circle cx="141.70" cy="59.40" r="1.4"/><circle cx="146.80" cy="64.00" r="1.4"/><circle cx="140.20" cy="68.00" r="1.4"/><circle cx="148.80" cy="74.10" r="1.4"/><circle cx="149.80" cy="79.60" r="1.4"/><circle cx="142.20" cy="81.70" r="1.4"/><circle cx="145.80" cy="85.20" r="1.4"/><circle cx="144.30" cy="96.40" r="1.4"/><circle cx="153.90" cy="97.40" r="1.4"/><circle cx="149.30" cy="101.40" r="1.4"/><circle cx="150.30" cy="111.00" r="1.4"/><circle cx="142.00" cy="118.80" r="1.4"/><circle cx="147.70" cy="118.80" r="1.4"/><circle cx="151.50" cy="118.80" r="1.4"/><circle cx="147.70" cy="124.00" r="1.4"/><circle cx="149.60" cy="127.90" r="1.4"/><circle cx="142.00" cy="132.70" r="1.4"/><circle cx="143.80" cy="130.80" r="1.4"/><circle cx="147.70" cy="139.40" r="1.4"/><circle cx="150.60" cy="137.50" r="1.4"/><circle cx="141.00" cy="144.20" r="1.4"/><circle cx="146.70" cy="145.00" r="1.4"/><circle cx="149.60" cy="145.00" r="1.4"/><circle cx="151.50" cy="145.00" r="1.4"/><circle cx="141.50" cy="154.80" r="1.4"/><circle cx="143.50" cy="154.80" r="1.4"/><circle cx="147.70" cy="154.80" r="1.4"/><circle cx="148.70" cy="157.00" r="1.4"/><circle cx="151.50" cy="157.00" r="1.4"/><circle cx="142.90" cy="161.20" r="1.4"/><circle cx="151.50" cy="160.60" r="1.4"/><circle cx="152.50" cy="164.40" r="1.4"/><circle cx="141.90" cy="168.30" r="1.4"/><circle cx="147.70" cy="168.30" r="1.4"/><circle cx="140.00" cy="172.70" r="1.4"/><circle cx="147.70" cy="172.70" r="1.4"/><circle cx="139.82" cy="149.20" r="1.4"/><circle cx="143.59" cy="149.20" r="1.4"/><circle cx="143.29" cy="149.20" r="1.4"/><circle cx="149.79" cy="149.20" r="1.4"/><circle cx="153.75" cy="149.20" r="1.4"/><circle cx="146.11" cy="149.20" r="1.4"/><circle cx="153.46" cy="149.20" r="1.4"/><circle cx="154.22" cy="149.20" r="1.4"/><circle cx="153.73" cy="149.20" r="1.4"/><circle cx="144.87" cy="177.90" r="1.4"/><circle cx="142.71" cy="177.90" r="1.4"/><circle cx="142.80" cy="177.90" r="1.4"/><circle cx="142.35" cy="177.90" r="1.4"/><circle cx="142.47" cy="177.90" r="1.4"/><circle cx="148.76" cy="177.90" r="1.4"/><circle cx="152.90" cy="177.90" r="1.4"/><circle cx="152.01" cy="184.60" r="1.4"/><circle cx="146.59" cy="184.60" r="1.4"/><circle cx="149.19" cy="184.60" r="1.4"/><circle cx="151.39" cy="184.60" r="1.4"/><circle cx="140.67" cy="184.60" r="1.4"/><circle cx="149.31" cy="184.60" r="1.4"/><circle cx="153.05" cy="184.60" r="1.4"/><circle cx="151.13" cy="184.60" r="1.4"/><circle cx="150.65" cy="184.60" r="1.4"/><circle cx="146.57" cy="201.10" r="1.4"/><circle cx="142.08" cy="201.10" r="1.4"/><circle cx="151.24" cy="201.10" r="1.4"/><circle cx="144.39" cy="201.10" r="1.4"/><circle cx="151.41" cy="201.10" r="1.4"/><circle cx="153.97" cy="201.10" r="1.4"/><circle cx="145.34" cy="201.10" r="1.4"/><circle cx="141.30" cy="255.80" r="1.4"/><circle cx="143.80" cy="267.70" r="1.4"/><circle cx="151.50" cy="274.40" r="1.4"/><circle cx="153.50" cy="275.00" r="1.4"/><circle cx="143.80" cy="277.70" r="1.4"/><circle cx="150.40" cy="278.80" r="1.4"/><circle cx="141.90" cy="282.10" r="1.4"/><circle cx="145.20" cy="283.10" r="1.4"/><circle cx="148.10" cy="281.20" r="1.4"/><circle cx="150.40" cy="286.90" r="1.4"/><circle cx="141.90" cy="287.90" r="1.4"/><circle cx="146.20" cy="289.80" r="1.4"/><circle cx="151.50" cy="290.80" r="1.4"/><circle cx="140.80" cy="292.70" r="1.4"/><circle cx="142.30" cy="294.60" r="1.4"/><circle cx="149.60" cy="296.20" r="1.4"/><circle cx="151.90" cy="296.50" r="1.4"/><circle cx="141.30" cy="296.50" r="1.4"/><circle cx="147.10" cy="301.30" r="1.4"/><circle cx="149.00" cy="302.30" r="1.4"/><circle cx="154.80" cy="302.30" r="1.4"/><circle cx="141.90" cy="303.80" r="1.4"/><circle cx="140.40" cy="309.00" r="1.4"/><circle cx="143.30" cy="311.00" r="1.4"/><circle cx="146.20" cy="311.90" r="1.4"/><circle cx="151.00" cy="311.90" r="1.4"/><circle cx="153.80" cy="312.90" r="1.4"/><circle cx="140.40" cy="316.70" r="1.4"/><circle cx="151.90" cy="317.70" r="1.4"/><circle cx="155.80" cy="315.80" r="1.4"/><circle cx="147.10" cy="319.60" r="1.4"/><circle cx="140.40" cy="323.50" r="1.4"/><circle cx="146.20" cy="324.40" r="1.4"/><circle cx="150.00" cy="325.40" r="1.4"/><circle cx="154.80" cy="323.50" r="1.4"/><circle cx="140.40" cy="329.20" r="1.4"/><circle cx="144.60" cy="328.30" r="1.4"/><circle cx="148.10" cy="330.20" r="1.4"/><circle cx="150.40" cy="333.10" r="1.4"/><circle cx="141.30" cy="332.10" r="1.4"/><circle cx="147.10" cy="335.00" r="1.4"/><circle cx="153.80" cy="337.90" r="1.4"/><circle cx="151.00" cy="341.70" r="1.4"/><circle cx="147.10" cy="342.70" r="1.4"/><circle cx="143.80" cy="341.70" r="1.4"/><circle cx="140.40" cy="348.50" r="1.4"/><circle cx="145.80" cy="352.70" r="1.4"/><circle cx="148.10" cy="362.90" r="1.4"/><circle cx="154.40" cy="371.90" r="1.4"/><circle cx="149.60" cy="375.40" r="1.4"/><circle cx="152.90" cy="382.70" r="1.4"/><circle cx="147.70" cy="386.50" r="1.4"/><circle cx="144.00" cy="306.00" r="1.4"/><circle cx="150.00" cy="306.50" r="1.4"/><circle cx="142.50" cy="320.00" r="1.4"/><circle cx="152.00" cy="328.00" r="1.4"/><circle cx="145.00" cy="338.00" r="1.4"/><circle cx="150.40" cy="478.10" r="1.4"/><circle cx="149.60" cy="483.80" r="1.4"/><circle cx="142.70" cy="488.10" r="1.4"/><circle cx="153.80" cy="487.30" r="1.4"/><circle cx="149.00" cy="490.00" r="1.4"/><circle cx="148.10" cy="492.50" r="1.4"/><circle cx="145.20" cy="498.80" r="1.4"/><circle cx="152.90" cy="501.20" r="1.4"/><circle cx="143.80" cy="506.90" r="1.4"/><circle cx="146.20" cy="509.80" r="1.4"/><circle cx="152.90" cy="509.80" r="1.4"/><circle cx="145.20" cy="511.70" r="1.4"/><circle cx="151.00" cy="514.60" r="1.4"/><circle cx="151.50" cy="516.50" r="1.4"/><circle cx="146.20" cy="518.50" r="1.4"/><circle cx="144.60" cy="520.80" r="1.4"/><circle cx="151.00" cy="520.40" r="1.4"/><circle cx="145.80" cy="523.30" r="1.4"/><circle cx="148.10" cy="524.20" r="1.4"/><circle cx="143.80" cy="527.10" r="1.4"/><circle cx="145.80" cy="528.10" r="1.4"/><circle cx="147.10" cy="526.50" r="1.4"/><circle cx="144.60" cy="529.00" r="1.4"/><circle cx="143.30" cy="530.00" r="1.4"/><circle cx="153.50" cy="531.50" r="1.4"/><circle cx="140.40" cy="534.20" r="1.4"/><circle cx="143.30" cy="535.40" r="1.4"/><circle cx="150.40" cy="535.80" r="1.4"/><circle cx="141.30" cy="539.60" r="1.4"/><circle cx="146.20" cy="538.70" r="1.4"/><circle cx="152.90" cy="538.70" r="1.4"/><circle cx="149.60" cy="542.50" r="1.4"/><circle cx="141.30" cy="544.40" r="1.4"/><circle cx="140.40" cy="546.90" r="1.4"/><circle cx="151.00" cy="548.30" r="1.4"/><circle cx="144.60" cy="550.20" r="1.4"/><circle cx="146.20" cy="555.00" r="1.4"/><circle cx="148.10" cy="556.00" r="1.4"/><circle cx="140.40" cy="558.50" r="1.4"/><circle cx="147.10" cy="559.80" r="1.4"/><circle cx="152.30" cy="559.80" r="1.4"/><circle cx="141.90" cy="568.80" r="1.4"/><circle cx="149.00" cy="570.00" r="1.4"/><circle cx="147.10" cy="572.30" r="1.4"/><circle cx="148.10" cy="581.50" r="1.4"/><circle cx="150.40" cy="586.70" r="1.4"/><circle cx="151.90" cy="589.60" r="1.4"/><circle cx="152.30" cy="591.20" r="1.4"/><circle cx="154.40" cy="595.40" r="1.4"/><circle cx="149.60" cy="724.60" r="1.4"/><circle cx="140.40" cy="734.80" r="1.4"/><circle cx="146.20" cy="734.40" r="1.4"/><circle cx="149.00" cy="733.80" r="1.4"/><circle cx="150.00" cy="735.80" r="1.4"/><circle cx="154.80" cy="733.50" r="1.4"/><circle cx="154.80" cy="741.50" r="1.4"/><circle cx="154.20" cy="743.50" r="1.4"/><circle cx="148.10" cy="749.20" r="1.4"/><circle cx="140.80" cy="756.90" r="1.4"/><circle cx="146.20" cy="758.80" r="1.4"/><circle cx="150.00" cy="756.90" r="1.4"/><circle cx="152.90" cy="762.70" r="1.4"/><circle cx="152.90" cy="768.50" r="1.4"/><circle cx="143.30" cy="770.40" r="1.4"/><circle cx="145.20" cy="771.30" r="1.4"/><circle cx="147.10" cy="770.40" r="1.4"/><circle cx="151.90" cy="774.20" r="1.4"/><circle cx="146.20" cy="775.20" r="1.4"/><circle cx="151.00" cy="775.20" r="1.4"/><circle cx="143.30" cy="777.10" r="1.4"/><circle cx="145.20" cy="779.00" r="1.4"/><circle cx="154.80" cy="781.90" r="1.4"/><circle cx="140.40" cy="783.80" r="1.4"/><circle cx="144.20" cy="791.30" r="1.4"/><circle cx="140.40" cy="794.20" r="1.4"/><circle cx="150.00" cy="795.20" r="1.4"/><circle cx="142.30" cy="797.70" r="1.4"/><circle cx="149.00" cy="799.00" r="1.4"/><circle cx="153.80" cy="799.00" r="1.4"/><circle cx="152.90" cy="800.00" r="1.4"/><circle cx="140.40" cy="802.90" r="1.4"/><circle cx="143.30" cy="800.00" r="1.4"/><circle cx="146.20" cy="805.80" r="1.4"/><circle cx="147.10" cy="807.70" r="1.4"/><circle cx="140.40" cy="809.60" r="1.4"/><circle cx="146.20" cy="810.60" r="1.4"/><circle cx="151.50" cy="810.60" r="1.4"/><circle cx="146.50" cy="813.50" r="1.4"/><circle cx="152.90" cy="814.40" r="1.4"/><circle cx="154.80" cy="820.20" r="1.4"/><circle cx="141.30" cy="823.50" r="1.4"/><circle cx="151.50" cy="832.30" r="1.4"/><circle cx="146.20" cy="834.60" r="1.4"/><circle cx="140.80" cy="840.00" r="1.4"/><circle cx="149.00" cy="842.30" r="1.4"/><circle cx="150.40" cy="865.00" r="1.4"/><circle cx="142.30" cy="867.90" r="1.4"/></g>
<text x="268.50" y="43.00" font-size="16.5" text-anchor="start" font-weight="bold" fill="#111" >B</text>
<line x1="304.30" y1="49.60" x2="304.30" y2="170.20" stroke="#6a6a6a" stroke-width="1"/>
<line x1="303.80" y1="170.20" x2="520.00" y2="170.20" stroke="#6a6a6a" stroke-width="1"/>
<line x1="301.80" y1="170.20" x2="304.30" y2="170.20" stroke="#6a6a6a" stroke-width="1"/>
<text x="300.80" y="172.50" font-size="6.7" text-anchor="end" font-weight="normal" fill="#333" >0</text>
<line x1="301.80" y1="140.05" x2="304.30" y2="140.05" stroke="#6a6a6a" stroke-width="1"/>
<text x="300.80" y="142.35" font-size="6.7" text-anchor="end" font-weight="normal" fill="#333" >25</text>
<line x1="301.80" y1="109.90" x2="304.30" y2="109.90" stroke="#6a6a6a" stroke-width="1"/>
<text x="300.80" y="112.20" font-size="6.7" text-anchor="end" font-weight="normal" fill="#333" >50</text>
<line x1="301.80" y1="79.75" x2="304.30" y2="79.75" stroke="#6a6a6a" stroke-width="1"/>
<text x="300.80" y="82.05" font-size="6.7" text-anchor="end" font-weight="normal" fill="#333" >75</text>
<line x1="301.80" y1="49.60" x2="304.30" y2="49.60" stroke="#6a6a6a" stroke-width="1"/>
<text x="300.80" y="51.90" font-size="6.7" text-anchor="end" font-weight="normal" fill="#333" >100</text>
<line x1="304.30" y1="170.20" x2="304.30" y2="172.70" stroke="#6a6a6a" stroke-width="1"/>
<text x="304.30" y="180.60" font-size="6.9" text-anchor="middle" font-weight="normal" fill="#333" >0</text>
<line x1="355.55" y1="170.20" x2="355.55" y2="172.70" stroke="#6a6a6a" stroke-width="1"/>
<text x="355.55" y="180.60" font-size="6.9" text-anchor="middle" font-weight="normal" fill="#333" >10</text>
<line x1="406.80" y1="170.20" x2="406.80" y2="172.70" stroke="#6a6a6a" stroke-width="1"/>
<text x="406.80" y="180.60" font-size="6.9" text-anchor="middle" font-weight="normal" fill="#333" >20</text>
<line x1="458.05" y1="170.20" x2="458.05" y2="172.70" stroke="#6a6a6a" stroke-width="1"/>
<text x="458.05" y="180.60" font-size="6.9" text-anchor="middle" font-weight="normal" fill="#333" >30</text>
<line x1="509.30" y1="170.20" x2="509.30" y2="172.70" stroke="#6a6a6a" stroke-width="1"/>
<text x="509.30" y="180.60" font-size="6.9" text-anchor="middle" font-weight="normal" fill="#333" >40</text>
<text x="413.30" y="191.20" font-size="8.6" text-anchor="middle" font-weight="bold" fill="#111" >Time (months)</text>
<text transform="translate(284.2,111.90) rotate(-90)" font-size="8.9" font-weight="bold" text-anchor="middle" fill="#111">OS (%)</text>
<text x="392.00" y="52.10" font-size="6.95" text-anchor="start" font-weight="bold" fill="#222" >PD-L1</text>
<text x="471.30" y="52.10" font-size="6.9" text-anchor="middle" font-weight="bold" fill="#222" >Median OS (95% CI), months</text>
<line x1="389.70" y1="54.70" x2="520.00" y2="54.70" stroke="#555" stroke-width="0.9"/>
<text x="392.00" y="62.20" font-size="6.95" text-anchor="start" font-weight="bold" fill="#1a8a7a" >CPS ≥10</text>
<text x="471.30" y="62.20" font-size="6.95" text-anchor="middle" font-weight="bold" fill="#222" >18.5 (13.1–28.8)</text>
<text x="392.00" y="70.80" font-size="6.95" text-anchor="start" font-weight="bold" fill="#4e1238" >CPS &lt;10</text>
<text x="471.30" y="70.80" font-size="6.95" text-anchor="middle" font-weight="bold" fill="#222" >9.7 (7.8–11.5)</text>
<text x="268.50" y="264.80" font-size="16.5" text-anchor="start" font-weight="bold" fill="#111" >D</text>
<line x1="304.30" y1="271.50" x2="304.30" y2="392.20" stroke="#6a6a6a" stroke-width="1"/>
<line x1="303.80" y1="392.20" x2="520.00" y2="392.20" stroke="#6a6a6a" stroke-width="1"/>
<line x1="301.80" y1="392.20" x2="304.30" y2="392.20" stroke="#6a6a6a" stroke-width="1"/>
<text x="300.80" y="394.50" font-size="6.7" text-anchor="end" font-weight="normal" fill="#333" >0</text>
<line x1="301.80" y1="362.02" x2="304.30" y2="362.02" stroke="#6a6a6a" stroke-width="1"/>
<text x="300.80" y="364.32" font-size="6.7" text-anchor="end" font-weight="normal" fill="#333" >25</text>
<line x1="301.80" y1="331.85" x2="304.30" y2="331.85" stroke="#6a6a6a" stroke-width="1"/>
<text x="300.80" y="334.15" font-size="6.7" text-anchor="end" font-weight="normal" fill="#333" >50</text>
<line x1="301.80" y1="301.67" x2="304.30" y2="301.67" stroke="#6a6a6a" stroke-width="1"/>
<text x="300.80" y="303.97" font-size="6.7" text-anchor="end" font-weight="normal" fill="#333" >75</text>
<line x1="301.80" y1="271.50" x2="304.30" y2="271.50" stroke="#6a6a6a" stroke-width="1"/>
<text x="300.80" y="273.80" font-size="6.7" text-anchor="end" font-weight="normal" fill="#333" >100</text>
<line x1="304.30" y1="392.20" x2="304.30" y2="394.70" stroke="#6a6a6a" stroke-width="1"/>
<text x="304.30" y="402.60" font-size="6.9" text-anchor="middle" font-weight="normal" fill="#333" >0</text>
<line x1="355.55" y1="392.20" x2="355.55" y2="394.70" stroke="#6a6a6a" stroke-width="1"/>
<text x="355.55" y="402.60" font-size="6.9" text-anchor="middle" font-weight="normal" fill="#333" >10</text>
<line x1="406.80" y1="392.20" x2="406.80" y2="394.70" stroke="#6a6a6a" stroke-width="1"/>
<text x="406.80" y="402.60" font-size="6.9" text-anchor="middle" font-weight="normal" fill="#333" >20</text>
<line x1="458.05" y1="392.20" x2="458.05" y2="394.70" stroke="#6a6a6a" stroke-width="1"/>
<text x="458.05" y="402.60" font-size="6.9" text-anchor="middle" font-weight="normal" fill="#333" >30</text>
<line x1="509.30" y1="392.20" x2="509.30" y2="394.70" stroke="#6a6a6a" stroke-width="1"/>
<text x="509.30" y="402.60" font-size="6.9" text-anchor="middle" font-weight="normal" fill="#333" >40</text>
<text x="413.30" y="413.20" font-size="8.6" text-anchor="middle" font-weight="bold" fill="#111" >Time (months)</text>
<text transform="translate(284.2,333.85) rotate(-90)" font-size="8.9" font-weight="bold" text-anchor="middle" fill="#111">OS (%)</text>
<text x="348.30" y="274.00" font-size="6.95" text-anchor="start" font-weight="bold" fill="#222" >TMB</text>
<text x="471.30" y="274.00" font-size="6.9" text-anchor="middle" font-weight="bold" fill="#222" >Median OS (95% CI), months</text>
<line x1="344.80" y1="276.60" x2="520.00" y2="276.60" stroke="#555" stroke-width="0.9"/>
<text x="348.30" y="284.10" font-size="6.95" text-anchor="start" font-weight="bold" fill="#1a8a7a" >TMB ≥175 mut/exome</text>
<text x="471.30" y="284.10" font-size="6.95" text-anchor="middle" font-weight="bold" fill="#222" >11.6 (9.0–18.8)</text>
<text x="348.30" y="292.70" font-size="6.95" text-anchor="start" font-weight="bold" fill="#4e1238" >TMB &lt;175 mut/exome</text>
<text x="471.30" y="292.70" font-size="6.95" text-anchor="middle" font-weight="bold" fill="#222" >12.4 (9.7–15.7)</text>
<text x="268.50" y="487.50" font-size="16.5" text-anchor="start" font-weight="bold" fill="#111" >F</text>
<line x1="304.30" y1="494.20" x2="304.30" y2="614.60" stroke="#6a6a6a" stroke-width="1"/>
<line x1="303.80" y1="614.60" x2="520.00" y2="614.60" stroke="#6a6a6a" stroke-width="1"/>
<line x1="301.80" y1="614.60" x2="304.30" y2="614.60" stroke="#6a6a6a" stroke-width="1"/>
<text x="300.80" y="616.90" font-size="6.7" text-anchor="end" font-weight="normal" fill="#333" >0</text>
<line x1="301.80" y1="584.50" x2="304.30" y2="584.50" stroke="#6a6a6a" stroke-width="1"/>
<text x="300.80" y="586.80" font-size="6.7" text-anchor="end" font-weight="normal" fill="#333" >25</text>
<line x1="301.80" y1="554.40" x2="304.30" y2="554.40" stroke="#6a6a6a" stroke-width="1"/>
<text x="300.80" y="556.70" font-size="6.7" text-anchor="end" font-weight="normal" fill="#333" >50</text>
<line x1="301.80" y1="524.30" x2="304.30" y2="524.30" stroke="#6a6a6a" stroke-width="1"/>
<text x="300.80" y="526.60" font-size="6.7" text-anchor="end" font-weight="normal" fill="#333" >75</text>
<line x1="301.80" y1="494.20" x2="304.30" y2="494.20" stroke="#6a6a6a" stroke-width="1"/>
<text x="300.80" y="496.50" font-size="6.7" text-anchor="end" font-weight="normal" fill="#333" >100</text>
<line x1="304.30" y1="614.60" x2="304.30" y2="617.10" stroke="#6a6a6a" stroke-width="1"/>
<text x="304.30" y="625.00" font-size="6.9" text-anchor="middle" font-weight="normal" fill="#333" >0</text>
<line x1="355.55" y1="614.60" x2="355.55" y2="617.10" stroke="#6a6a6a" stroke-width="1"/>
<text x="355.55" y="625.00" font-size="6.9" text-anchor="middle" font-weight="normal" fill="#333" >10</text>
<line x1="406.80" y1="614.60" x2="406.80" y2="617.10" stroke="#6a6a6a" stroke-width="1"/>
<text x="406.80" y="625.00" font-size="6.9" text-anchor="middle" font-weight="normal" fill="#333" >20</text>
<line x1="458.05" y1="614.60" x2="458.05" y2="617.10" stroke="#6a6a6a" stroke-width="1"/>
<text x="458.05" y="625.00" font-size="6.9" text-anchor="middle" font-weight="normal" fill="#333" >30</text>
<line x1="509.30" y1="614.60" x2="509.30" y2="617.10" stroke="#6a6a6a" stroke-width="1"/>
<text x="509.30" y="625.00" font-size="6.9" text-anchor="middle" font-weight="normal" fill="#333" >40</text>
<text x="413.30" y="635.60" font-size="8.6" text-anchor="middle" font-weight="bold" fill="#111" >Time (months)</text>
<text transform="translate(284.2,556.40) rotate(-90)" font-size="8.9" font-weight="bold" text-anchor="middle" fill="#111">OS (%)</text>
<text x="350.40" y="496.70" font-size="6.95" text-anchor="start" font-weight="bold" fill="#222" >Tcell<tspan font-size="5" dy="1.5">inf</tspan><tspan dy="-1.5">GEP</tspan></text>
<text x="471.30" y="496.70" font-size="6.9" text-anchor="middle" font-weight="bold" fill="#222" >Median OS (95% CI), months</text>
<line x1="347.30" y1="499.30" x2="520.00" y2="499.30" stroke="#555" stroke-width="0.9"/>
<text x="350.40" y="506.80" font-size="6.95" text-anchor="start" font-weight="bold" fill="#1a8a7a" >GEP-non-low</text>
<text x="471.30" y="506.80" font-size="6.95" text-anchor="middle" font-weight="bold" fill="#222" >13.9 (10.8–18.8)</text>
<text x="350.40" y="515.40" font-size="6.95" text-anchor="start" font-weight="bold" fill="#4e1238" >GEP-low</text>
<text x="471.30" y="515.40" font-size="6.95" text-anchor="middle" font-weight="bold" fill="#222" >10.3 (6.3–12.5)</text>
<text x="268.50" y="709.50" font-size="16.5" text-anchor="start" font-weight="bold" fill="#111" >H</text>
<line x1="304.30" y1="716.50" x2="304.30" y2="836.50" stroke="#6a6a6a" stroke-width="1"/>
<line x1="303.80" y1="836.50" x2="520.00" y2="836.50" stroke="#6a6a6a" stroke-width="1"/>
<line x1="301.80" y1="836.50" x2="304.30" y2="836.50" stroke="#6a6a6a" stroke-width="1"/>
<text x="300.80" y="838.80" font-size="6.7" text-anchor="end" font-weight="normal" fill="#333" >0</text>
<line x1="301.80" y1="806.50" x2="304.30" y2="806.50" stroke="#6a6a6a" stroke-width="1"/>
<text x="300.80" y="808.80" font-size="6.7" text-anchor="end" font-weight="normal" fill="#333" >25</text>
<line x1="301.80" y1="776.50" x2="304.30" y2="776.50" stroke="#6a6a6a" stroke-width="1"/>
<text x="300.80" y="778.80" font-size="6.7" text-anchor="end" font-weight="normal" fill="#333" >50</text>
<line x1="301.80" y1="746.50" x2="304.30" y2="746.50" stroke="#6a6a6a" stroke-width="1"/>
<text x="300.80" y="748.80" font-size="6.7" text-anchor="end" font-weight="normal" fill="#333" >75</text>
<line x1="301.80" y1="716.50" x2="304.30" y2="716.50" stroke="#6a6a6a" stroke-width="1"/>
<text x="300.80" y="718.80" font-size="6.7" text-anchor="end" font-weight="normal" fill="#333" >100</text>
<line x1="304.30" y1="836.50" x2="304.30" y2="839.00" stroke="#6a6a6a" stroke-width="1"/>
<text x="304.30" y="846.90" font-size="6.9" text-anchor="middle" font-weight="normal" fill="#333" >0</text>
<line x1="355.55" y1="836.50" x2="355.55" y2="839.00" stroke="#6a6a6a" stroke-width="1"/>
<text x="355.55" y="846.90" font-size="6.9" text-anchor="middle" font-weight="normal" fill="#333" >10</text>
<line x1="406.80" y1="836.50" x2="406.80" y2="839.00" stroke="#6a6a6a" stroke-width="1"/>
<text x="406.80" y="846.90" font-size="6.9" text-anchor="middle" font-weight="normal" fill="#333" >20</text>
<line x1="458.05" y1="836.50" x2="458.05" y2="839.00" stroke="#6a6a6a" stroke-width="1"/>
<text x="458.05" y="846.90" font-size="6.9" text-anchor="middle" font-weight="normal" fill="#333" >30</text>
<line x1="509.30" y1="836.50" x2="509.30" y2="839.00" stroke="#6a6a6a" stroke-width="1"/>
<text x="509.30" y="846.90" font-size="6.9" text-anchor="middle" font-weight="normal" fill="#333" >40</text>
<text x="413.30" y="857.50" font-size="8.6" text-anchor="middle" font-weight="bold" fill="#111" >Time (months)</text>
<text transform="translate(284.2,778.50) rotate(-90)" font-size="8.9" font-weight="bold" text-anchor="middle" fill="#111">OS (%)</text>
<text x="354.70" y="719.00" font-size="6.95" text-anchor="start" font-weight="bold" fill="#222" >Stroma/EMT/TGFβ</text>
<text x="471.30" y="719.00" font-size="6.9" text-anchor="middle" font-weight="bold" fill="#222" >Median OS (95% CI), months</text>
<line x1="350.00" y1="721.60" x2="520.00" y2="721.60" stroke="#555" stroke-width="0.9"/>
<text x="354.70" y="729.10" font-size="6.95" text-anchor="start" font-weight="bold" fill="#1a8a7a" >≥median</text>
<text x="471.30" y="729.10" font-size="6.95" text-anchor="middle" font-weight="bold" fill="#222" >10.5 (6.6–13.9)</text>
<text x="354.70" y="737.70" font-size="6.95" text-anchor="start" font-weight="bold" fill="#4e1238" >&lt;median</text>
<text x="471.30" y="737.70" font-size="6.95" text-anchor="middle" font-weight="bold" fill="#222" >14.4 (11.3–21.0)</text>
<path d="M304.30,49.60 L306.10,49.60 L306.10,51.15 L307.90,51.15 L307.90,52.70 L309.70,52.70 L309.70,54.25 L311.50,54.25 L311.50,55.80 L311.94,55.80 L311.94,57.11 L312.39,57.11 L312.39,58.43 L312.83,58.43 L312.83,59.74 L313.27,59.74 L313.27,61.06 L313.71,61.06 L313.71,62.37 L314.16,62.37 L314.16,63.69 L314.60,63.69 L314.60,65.00 L315.38,65.00 L315.38,66.35 L316.15,66.35 L316.15,67.70 L316.93,67.70 L316.93,69.05 L317.70,69.05 L317.70,70.40 L318.24,70.40 L318.24,71.71 L318.79,71.71 L318.79,73.03 L319.33,73.03 L319.33,74.34 L319.87,74.34 L319.87,75.66 L320.41,75.66 L320.41,76.97 L320.96,76.97 L320.96,78.29 L321.50,78.29 L321.50,79.60 L322.48,79.60 L322.48,80.95 L323.45,80.95 L323.45,82.30 L324.42,82.30 L324.42,83.65 L325.40,83.65 L325.40,85.00 L326.78,85.00 L326.78,86.38 L328.16,86.38 L328.16,87.76 L329.54,87.76 L329.54,89.14 L330.92,89.14 L330.92,90.52 L332.30,90.52 L332.30,91.90 L333.38,91.90 L333.38,93.28 L334.46,93.28 L334.46,94.66 L335.54,94.66 L335.54,96.04 L336.62,96.04 L336.62,97.42 L337.70,97.42 L337.70,98.80 L340.53,98.80 L340.53,100.37 L343.37,100.37 L343.37,101.93 L346.20,101.93 L346.20,103.50 L348.10,103.50 L348.10,105.03 L350.00,105.03 L350.00,106.55 L351.90,106.55 L351.90,108.07 L353.80,108.07 L353.80,109.60 L356.90,109.60 L356.90,111.15 L360.00,111.15 L360.00,112.70 L360.77,112.70 L360.77,113.98 L361.53,113.98 L361.53,115.27 L362.30,115.27 L362.30,116.55 L363.07,116.55 L363.07,117.83 L363.83,117.83 L363.83,119.12 L364.60,119.12 L364.60,120.40 L367.70,120.40 L367.70,121.55 L370.80,121.55 L370.80,122.70 L373.87,122.70 L373.87,124.23 L376.93,124.23 L376.93,125.77 L380.00,125.77 L380.00,127.30 L382.30,127.30 L382.30,128.45 L384.60,128.45 L384.60,129.60 L388.45,129.60 L388.45,130.75 L392.30,130.75 L392.30,131.90 L400.00,131.90 L400.00,133.50 L403.10,133.50 L403.10,134.65 L406.20,134.65 L406.20,135.80 L410.80,135.80 L410.80,137.30 L413.10,137.30 L413.10,138.45 L415.40,138.45 L415.40,139.60 L423.10,139.60 L423.10,141.20 L430.80,141.20 L430.80,142.70 L441.50,142.70 L443.10,142.70 L443.10,143.50 L444.65,143.50 L444.65,145.00 L446.20,145.00 L446.20,146.50 L460.00,146.50 L460.00,147.30 L470.00,147.30 L470.00,149.40 L481.50,149.40 L481.50,151.30 L508.50,151.30" fill="none" stroke="#5e1440" stroke-width="1.4" stroke-linejoin="miter"/>
<path d="M421.00,138.76v2.2M443.00,141.45v2.2M449.00,144.66v2.2M451.00,144.78v2.2M453.00,144.89v2.2M456.00,145.07v2.2M458.00,145.18v2.2M461.00,145.30v2.2M463.00,145.30v2.2M465.00,145.30v2.2M467.00,145.30v2.2M472.00,147.40v2.2M476.00,147.40v2.2M479.00,147.40v2.2M485.00,149.30v2.2M490.00,149.30v2.2M494.00,149.30v2.2M498.00,149.30v2.2M502.00,149.30v2.2M505.00,149.30v2.2" stroke="#5e1440" stroke-width="0.9"/>
<path d="M304.30,49.60 L306.75,49.60 L306.75,50.75 L309.20,50.75 L309.20,51.90 L314.60,51.90 L314.60,52.70 L315.06,52.70 L315.06,54.08 L315.52,54.08 L315.52,55.46 L315.98,55.46 L315.98,56.84 L316.44,56.84 L316.44,58.22 L316.90,58.22 L316.90,59.60 L318.93,59.60 L318.93,60.90 L320.97,60.90 L320.97,62.20 L323.00,62.20 L323.00,63.50 L324.30,63.50 L324.30,65.00 L325.60,65.00 L325.60,66.50 L326.90,66.50 L326.90,68.00 L327.43,68.00 L327.43,69.57 L327.97,69.57 L327.97,71.13 L328.50,71.13 L328.50,72.70 L330.80,72.70 L330.80,74.23 L333.10,74.23 L333.10,75.77 L335.40,75.77 L335.40,77.30 L340.00,77.30 L340.00,78.80 L342.07,78.80 L342.07,80.10 L344.13,80.10 L344.13,81.40 L346.20,81.40 L346.20,82.70 L348.73,82.70 L348.73,83.97 L351.27,83.97 L351.27,85.23 L353.80,85.23 L353.80,86.50 L355.60,86.50 L355.60,88.07 L357.40,88.07 L357.40,89.63 L359.20,89.63 L359.20,91.20 L359.97,91.20 L359.97,92.47 L360.73,92.47 L360.73,93.73 L361.50,93.73 L361.50,95.00 L364.07,95.00 L364.07,96.27 L366.63,96.27 L366.63,97.53 L369.20,97.53 L369.20,98.80 L372.80,98.80 L372.80,100.27 L376.40,100.27 L376.40,101.73 L380.00,101.73 L380.00,103.20 L387.70,103.20 L387.70,104.20 L389.50,104.20 L389.50,105.73 L391.30,105.73 L391.30,107.27 L393.10,107.27 L393.10,108.80 L400.00,108.80 L400.00,109.20 L401.15,109.20 L401.15,110.55 L402.30,110.55 L402.30,111.90 L418.50,111.90 L424.60,111.90 L424.60,113.20 L428.50,113.20 L428.50,113.80 L429.20,113.80 L429.20,115.80 L443.10,115.80 L444.60,115.80 L444.60,116.50 L446.15,116.50 L446.15,118.05 L447.70,118.05 L447.70,119.60 L450.00,119.60 L450.00,121.15 L452.30,121.15 L452.30,122.70 L453.80,122.70 L453.80,123.50 L515.60,123.50" fill="none" stroke="#17917f" stroke-width="1.4" stroke-linejoin="miter"/>
<path d="M418.50,109.90v2.2M442.00,113.80v2.2M455.00,121.50v2.2M458.00,121.50v2.2M461.00,121.50v2.2M465.00,121.50v2.2M468.00,121.50v2.2M472.00,121.50v2.2M476.00,121.50v2.2M479.00,121.50v2.2M484.00,121.50v2.2M487.00,121.50v2.2M491.00,121.50v2.2M494.00,121.50v2.2M499.00,121.50v2.2M503.00,121.50v2.2M507.00,121.50v2.2" stroke="#17917f" stroke-width="0.9"/>
<path d="M304.30,494.20 L306.75,494.20 L306.75,495.70 L309.20,495.70 L309.20,497.20 L310.35,497.20 L310.35,498.75 L311.50,498.75 L311.50,500.30 L311.65,500.30 L311.65,501.70 L311.79,501.70 L311.79,503.10 L311.94,503.10 L311.94,504.50 L312.08,504.50 L312.08,505.90 L312.23,505.90 L312.23,507.30 L312.37,507.30 L312.37,508.70 L312.52,508.70 L312.52,510.10 L312.66,510.10 L312.66,511.50 L312.81,511.50 L312.81,512.90 L312.95,512.90 L312.95,514.30 L313.10,514.30 L313.10,515.70 L316.20,515.70 L316.20,517.20 L317.20,517.20 L317.20,518.73 L318.20,518.73 L318.20,520.27 L319.20,520.27 L319.20,521.80 L319.40,521.80 L319.40,523.35 L319.60,523.35 L319.60,524.90 L319.80,524.90 L319.80,526.45 L320.00,526.45 L320.00,528.00 L320.57,528.00 L320.57,529.55 L321.15,529.55 L321.15,531.10 L321.73,531.10 L321.73,532.65 L322.30,532.65 L322.30,534.20 L329.20,534.20 L329.20,535.00 L330.75,535.00 L330.75,536.10 L332.30,536.10 L332.30,537.20 L333.83,537.20 L333.83,538.73 L335.37,538.73 L335.37,540.27 L336.90,540.27 L336.90,541.80 L341.50,541.80 L341.50,543.10 L346.20,543.10 L346.20,544.90 L347.70,544.90 L347.70,546.05 L349.20,546.05 L349.20,547.20 L351.15,547.20 L351.15,548.35 L353.10,548.35 L353.10,549.50 L354.37,549.50 L354.37,551.07 L355.63,551.07 L355.63,552.63 L356.90,552.63 L356.90,554.20 L358.05,554.20 L358.05,555.73 L359.20,555.73 L359.20,557.25 L360.35,557.25 L360.35,558.77 L361.50,558.77 L361.50,560.30 L362.07,560.30 L362.07,561.85 L362.65,561.85 L362.65,563.40 L363.23,563.40 L363.23,564.95 L363.80,564.95 L363.80,566.50 L365.10,566.50 L365.10,568.03 L366.40,568.03 L366.40,569.57 L367.70,569.57 L367.70,571.10 L373.80,571.10 L373.80,572.60 L380.00,572.60 L380.00,574.60 L384.60,574.60 L384.60,575.80 L394.60,575.80 L394.60,576.90 L395.40,576.90 L395.40,578.50 L401.50,578.50 L401.50,578.90 L402.30,578.90 L402.30,580.50 L410.00,580.50 L410.00,580.80 L410.75,580.80 L410.75,582.30 L411.50,582.30 L411.50,583.80 L421.50,583.80 L421.50,584.60 L423.80,584.60 L423.80,586.20 L427.70,586.20 L427.70,587.20 L430.80,587.20 L430.80,589.20 L441.50,589.20 L441.50,590.00 L442.30,590.00 L442.30,591.15 L443.10,591.15 L443.10,592.30 L449.20,592.30 L449.20,593.10 L459.40,593.10 L459.40,596.60 L481.20,596.60 L481.20,602.40 L488.40,602.40" fill="none" stroke="#5e1440" stroke-width="1.4" stroke-linejoin="miter"/>
<path d="M452.00,591.10v2.2M462.00,594.60v2.2M464.00,594.60v2.2M478.00,594.60v2.2M484.00,600.40v2.2M487.00,600.40v2.2" stroke="#5e1440" stroke-width="0.9"/>
<path d="M304.30,494.20 L307.70,494.20 L307.70,494.50 L308.85,494.50 L308.85,496.25 L310.00,496.25 L310.00,498.00 L311.90,498.00 L311.90,499.15 L313.80,499.15 L313.80,500.30 L315.35,500.30 L315.35,501.85 L316.90,501.85 L316.90,503.40 L317.67,503.40 L317.67,504.92 L318.45,504.92 L318.45,506.45 L319.23,506.45 L319.23,507.98 L320.00,507.98 L320.00,509.50 L321.03,509.50 L321.03,511.07 L322.07,511.07 L322.07,512.63 L323.10,512.63 L323.10,514.20 L323.88,514.20 L323.88,515.73 L324.65,515.73 L324.65,517.25 L325.43,517.25 L325.43,518.77 L326.20,518.77 L326.20,520.30 L327.35,520.30 L327.35,521.85 L328.50,521.85 L328.50,523.40 L329.77,523.40 L329.77,524.93 L331.03,524.93 L331.03,526.47 L332.30,526.47 L332.30,528.00 L333.83,528.00 L333.83,529.27 L335.37,529.27 L335.37,530.53 L336.90,530.53 L336.90,531.80 L339.20,531.80 L339.20,533.00 L341.50,533.00 L341.50,534.20 L344.60,534.20 L344.60,535.70 L347.70,535.70 L347.70,537.20 L350.75,537.20 L350.75,538.75 L353.80,538.75 L353.80,540.30 L356.15,540.30 L356.15,541.85 L358.50,541.85 L358.50,543.40 L359.50,543.40 L359.50,544.67 L360.50,544.67 L360.50,545.93 L361.50,545.93 L361.50,547.20 L364.60,547.20 L364.60,548.35 L367.70,548.35 L367.70,549.50 L370.00,549.50 L370.00,550.65 L372.30,550.65 L372.30,551.80 L373.33,551.80 L373.33,553.10 L374.37,553.10 L374.37,554.40 L375.40,554.40 L375.40,555.70 L380.00,555.70 L380.00,556.70 L383.10,556.70 L383.10,557.95 L386.20,557.95 L386.20,559.20 L388.50,559.20 L388.50,560.75 L390.80,560.75 L390.80,562.30 L398.50,562.30 L398.50,562.60 L399.65,562.60 L399.65,564.15 L400.80,564.15 L400.80,565.70 L410.00,565.70 L410.00,566.90 L411.55,566.90 L411.55,568.30 L413.10,568.30 L413.10,569.70 L418.50,569.70 L418.50,570.80 L422.30,570.80 L422.30,571.80 L441.50,571.80 L443.45,571.80 L443.45,573.20 L445.40,573.20 L445.40,574.60 L447.30,574.60 L447.30,576.15 L449.20,576.15 L449.20,577.70 L452.30,577.70 L452.30,579.80 L508.50,579.80" fill="none" stroke="#17917f" stroke-width="1.4" stroke-linejoin="miter"/>
<path d="M418.00,568.70v2.2M441.00,569.80v2.2M452.00,577.60v2.2M455.40,577.80v2.2M458.70,577.80v2.2M462.10,577.80v2.2M464.80,577.80v2.2M467.50,577.80v2.2M471.50,577.80v2.2M472.90,577.80v2.2M481.00,577.80v2.2M484.30,577.80v2.2M495.80,577.80v2.2M497.10,577.80v2.2M503.20,577.80v2.2M507.90,577.80v2.2" stroke="#17917f" stroke-width="0.9"/>
<path d="M304.30,716.50 L310.00,716.50 L310.57,716.50 L310.57,717.75 L311.15,717.75 L311.15,719.00 L311.73,719.00 L311.73,720.25 L312.30,720.25 L312.30,721.50 L313.83,721.50 L313.83,722.80 L315.37,722.80 L315.37,724.10 L316.90,724.10 L316.90,725.40 L317.42,725.40 L317.42,726.68 L317.93,726.68 L317.93,727.97 L318.45,727.97 L318.45,729.25 L318.97,729.25 L318.97,730.53 L319.48,730.53 L319.48,731.82 L320.00,731.82 L320.00,733.10 L320.77,733.10 L320.77,734.37 L321.53,734.37 L321.53,735.63 L322.30,735.63 L322.30,736.90 L324.10,736.90 L324.10,738.20 L325.90,738.20 L325.90,739.50 L327.70,739.50 L327.70,740.80 L329.23,740.80 L329.23,742.07 L330.77,742.07 L330.77,743.33 L332.30,743.33 L332.30,744.60 L333.83,744.60 L333.83,745.90 L335.37,745.90 L335.37,747.20 L336.90,747.20 L336.90,748.50 L344.60,748.50 L344.60,749.20 L345.63,749.20 L345.63,750.73 L346.67,750.73 L346.67,752.27 L347.70,752.27 L347.70,753.80 L353.80,753.80 L353.80,755.40 L355.75,755.40 L355.75,756.55 L357.70,756.55 L357.70,757.70 L358.65,757.70 L358.65,759.23 L359.60,759.23 L359.60,760.75 L360.55,760.75 L360.55,762.27 L361.50,762.27 L361.50,763.80 L362.53,763.80 L362.53,765.10 L363.57,765.10 L363.57,766.40 L364.60,766.40 L364.60,767.70 L367.70,767.70 L367.70,769.25 L370.80,769.25 L370.80,770.80 L373.10,770.80 L373.10,772.30 L375.40,772.30 L375.40,773.80 L377.70,773.80 L377.70,775.35 L380.00,775.35 L380.00,776.90 L383.10,776.90 L383.10,778.20 L386.90,778.20 L386.90,780.30 L395.40,780.30 L395.40,780.80 L399.20,780.80 L399.20,782.80 L400.23,782.80 L400.23,784.17 L401.27,784.17 L401.27,785.53 L402.30,785.53 L402.30,786.90 L410.80,786.90 L410.80,787.70 L411.95,787.70 L411.95,788.85 L413.10,788.85 L413.10,790.00 L420.00,790.00 L420.00,790.80 L423.10,790.80 L423.10,792.30 L429.20,792.30 L429.20,793.50 L433.10,793.50 L433.10,795.40 L443.10,795.40 L443.10,795.70 L444.25,795.70 L444.25,797.15 L445.40,797.15 L445.40,798.60 L446.55,798.60 L446.55,800.05 L447.70,800.05 L447.70,801.50 L450.00,801.50 L450.00,802.65 L452.30,802.65 L452.30,803.80 L455.40,803.80 L455.40,805.00 L482.30,805.00 L482.30,810.30 L509.20,810.30" fill="none" stroke="#5e1440" stroke-width="1.4" stroke-linejoin="miter"/>
<path d="M422.00,789.77v2.2M443.00,793.70v2.2M485.00,808.30v2.2M488.00,808.30v2.2M492.00,808.30v2.2M500.00,808.30v2.2M505.00,808.30v2.2" stroke="#5e1440" stroke-width="0.9"/>
<path d="M304.30,716.50 L308.50,716.50 L308.50,716.90 L308.68,716.90 L308.68,718.25 L308.85,718.25 L308.85,719.60 L309.02,719.60 L309.02,720.95 L309.20,720.95 L309.20,722.30 L312.30,722.30 L312.30,723.10 L312.92,723.10 L312.92,724.48 L313.54,724.48 L313.54,725.86 L314.16,725.86 L314.16,727.24 L314.78,727.24 L314.78,728.62 L315.40,728.62 L315.40,730.00 L316.17,730.00 L316.17,731.35 L316.95,731.35 L316.95,732.70 L317.73,732.70 L317.73,734.05 L318.50,734.05 L318.50,735.40 L319.00,735.40 L319.00,736.80 L319.50,736.80 L319.50,738.20 L320.00,738.20 L320.00,739.60 L320.50,739.60 L320.50,741.00 L321.00,741.00 L321.00,742.40 L321.50,742.40 L321.50,743.80 L322.53,743.80 L322.53,745.37 L323.57,745.37 L323.57,746.93 L324.60,746.93 L324.60,748.50 L325.22,748.50 L325.22,749.88 L325.84,749.88 L325.84,751.26 L326.46,751.26 L326.46,752.64 L327.08,752.64 L327.08,754.02 L327.70,754.02 L327.70,755.40 L330.80,755.40 L330.80,756.90 L331.95,756.90 L331.95,758.45 L333.10,758.45 L333.10,760.00 L334.90,760.00 L334.90,761.53 L336.70,761.53 L336.70,763.07 L338.50,763.07 L338.50,764.60 L340.03,764.60 L340.03,765.90 L341.57,765.90 L341.57,767.20 L343.10,767.20 L343.10,768.50 L349.20,768.50 L349.20,770.00 L350.73,770.00 L350.73,771.27 L352.27,771.27 L352.27,772.53 L353.80,772.53 L353.80,773.80 L355.87,773.80 L355.87,775.10 L357.93,775.10 L357.93,776.40 L360.00,776.40 L360.00,777.70 L361.15,777.70 L361.15,779.23 L362.30,779.23 L362.30,780.75 L363.45,780.75 L363.45,782.27 L364.60,782.27 L364.60,783.80 L366.90,783.80 L366.90,785.00 L369.20,785.00 L369.20,786.20 L372.30,786.20 L372.30,787.35 L375.40,787.35 L375.40,788.50 L380.00,788.50 L380.00,790.00 L384.60,790.00 L384.60,790.80 L389.20,790.80 L389.20,791.50 L389.98,791.50 L389.98,792.85 L390.75,792.85 L390.75,794.20 L391.52,794.20 L391.52,795.55 L392.30,795.55 L392.30,796.90 L400.00,796.90 L400.00,797.70 L409.20,797.70 L409.20,798.20 L411.00,798.20 L411.00,799.73 L412.80,799.73 L412.80,801.27 L414.60,801.27 L414.60,802.80 L441.50,802.80 L446.20,802.80 L446.20,804.60 L450.80,804.60 L450.80,806.40 L508.50,806.40" fill="none" stroke="#17917f" stroke-width="1.4" stroke-linejoin="miter"/>
<path d="M442.00,800.99v2.2M454.00,804.40v2.2M458.00,804.40v2.2M462.00,804.40v2.2M466.00,804.40v2.2M470.00,804.40v2.2M474.00,804.40v2.2M478.00,804.40v2.2M484.00,804.40v2.2M488.00,804.40v2.2M496.00,804.40v2.2M500.00,804.40v2.2M505.00,804.40v2.2M508.00,804.40v2.2" stroke="#17917f" stroke-width="0.9"/>
<path d="M304.30,271.50 L307.70,271.50 L307.70,271.90 L308.62,271.90 L308.62,273.28 L309.54,273.28 L309.54,274.66 L310.46,274.66 L310.46,276.04 L311.38,276.04 L311.38,277.42 L312.30,277.42 L312.30,278.80 L312.76,278.80 L312.76,280.34 L313.22,280.34 L313.22,281.88 L313.68,281.88 L313.68,283.42 L314.14,283.42 L314.14,284.96 L314.60,284.96 L314.60,286.50 L316.15,286.50 L316.15,287.65 L317.70,287.65 L317.70,288.80 L318.46,288.80 L318.46,290.20 L319.22,290.20 L319.22,291.60 L319.98,291.60 L319.98,293.00 L320.74,293.00 L320.74,294.40 L321.50,294.40 L321.50,295.80 L322.53,295.80 L322.53,297.33 L323.57,297.33 L323.57,298.87 L324.60,298.87 L324.60,300.40 L325.63,300.40 L325.63,301.93 L326.67,301.93 L326.67,303.47 L327.70,303.47 L327.70,305.00 L329.50,305.00 L329.50,306.27 L331.30,306.27 L331.30,307.53 L333.10,307.53 L333.10,308.80 L335.00,308.80 L335.00,310.00 L336.90,310.00 L336.90,311.20 L337.70,311.20 L337.70,312.70 L338.50,312.70 L338.50,314.20 L342.35,314.20 L342.35,315.75 L346.20,315.75 L346.20,317.30 L348.23,317.30 L348.23,318.60 L350.27,318.60 L350.27,319.90 L352.30,319.90 L352.30,321.20 L355.40,321.20 L355.40,322.70 L358.50,322.70 L358.50,324.20 L359.65,324.20 L359.65,325.55 L360.80,325.55 L360.80,326.90 L361.95,326.90 L361.95,328.25 L363.10,328.25 L363.10,329.60 L364.63,329.60 L364.63,330.90 L366.17,330.90 L366.17,332.20 L367.70,332.20 L367.70,333.50 L370.00,333.50 L370.00,334.65 L372.30,334.65 L372.30,335.80 L376.15,335.80 L376.15,337.15 L380.00,337.15 L380.00,338.50 L384.60,338.50 L384.60,340.30 L390.80,340.30 L390.80,341.50 L392.30,341.50 L392.30,343.40 L399.20,343.40 L399.20,343.80 L400.75,343.80 L400.75,345.00 L402.30,345.00 L402.30,346.20 L405.40,346.20 L405.40,348.00 L412.30,348.00 L412.30,348.90 L413.10,348.90 L413.10,349.50 L427.70,349.50 L427.70,350.00 L429.20,350.00 L429.20,350.80 L443.80,350.80 L445.00,350.80 L445.00,352.30 L446.20,352.30 L446.20,353.80 L481.50,353.80 L481.77,353.80 L481.77,355.37 L482.03,355.37 L482.03,356.93 L482.30,356.93 L482.30,358.50 L515.40,358.50" fill="none" stroke="#17917f" stroke-width="1.4" stroke-linejoin="miter"/>
<path d="M413.00,347.42v2.2M443.00,348.80v2.2M448.50,351.80v2.2M453.80,351.80v2.2M455.40,351.80v2.2M459.20,351.80v2.2M463.80,351.80v2.2M465.40,351.80v2.2M470.80,351.80v2.2M473.00,351.80v2.2M477.70,351.80v2.2M480.80,351.80v2.2M484.60,356.50v2.2M487.70,356.50v2.2M509.20,356.50v2.2M515.40,356.50v2.2" stroke="#17917f" stroke-width="0.9"/>
<path d="M304.30,271.95 L307.70,271.95 L307.70,272.35 L308.62,272.35 L308.62,273.83 L309.54,273.83 L309.54,275.31 L310.46,275.31 L310.46,276.79 L311.38,276.79 L311.38,278.27 L312.30,278.27 L312.30,279.75 L312.76,279.75 L312.76,281.19 L313.22,281.19 L313.22,282.63 L313.68,282.63 L313.68,284.07 L314.14,284.07 L314.14,285.51 L314.60,285.51 L314.60,286.95 L316.15,286.95 L316.15,288.35 L317.70,288.35 L317.70,289.75 L318.46,289.75 L318.46,291.19 L319.22,291.19 L319.22,292.63 L319.98,292.63 L319.98,294.07 L320.74,294.07 L320.74,295.51 L321.50,295.51 L321.50,296.95 L322.53,296.95 L322.53,298.45 L323.57,298.45 L323.57,299.95 L324.60,299.95 L324.60,301.45 L325.63,301.45 L325.63,302.95 L326.67,302.95 L326.67,304.45 L327.70,304.45 L327.70,305.95 L329.50,305.95 L329.50,307.22 L331.30,307.22 L331.30,308.48 L333.10,308.48 L333.10,309.75 L335.00,309.75 L335.00,310.95 L336.90,310.95 L336.90,312.15 L337.70,312.15 L337.70,313.55 L338.50,313.55 L338.50,314.95 L342.35,314.95 L342.35,316.60 L346.20,316.60 L346.20,318.25 L348.23,318.25 L348.23,319.55 L350.27,319.55 L350.27,320.85 L352.30,320.85 L352.30,322.15 L355.40,322.15 L355.40,323.65 L358.50,323.65 L358.50,325.15 L359.65,325.15 L359.65,326.47 L360.80,326.47 L360.80,327.80 L361.95,327.80 L361.95,329.12 L363.10,329.12 L363.10,330.45 L364.63,330.45 L364.63,331.78 L366.17,331.78 L366.17,333.12 L367.70,333.12 L367.70,334.45 L370.00,334.45 L370.00,335.65 L372.30,335.65 L372.30,336.85" fill="none" stroke="#5e1440" stroke-width="0.8" stroke-linejoin="miter"/>
<path d="M372.30,336.40 L374.87,336.40 L374.87,337.70 L377.43,337.70 L377.43,339.00 L380.00,339.00 L380.00,340.30 L382.30,340.30 L382.30,341.55 L384.60,341.55 L384.60,342.80 L389.20,342.80 L389.20,344.60 L392.30,344.60 L392.30,345.75 L395.40,345.75 L395.40,346.90 L400.00,346.90 L400.00,348.90 L403.10,348.90 L403.10,350.80 L405.80,350.80 L405.80,351.95 L408.50,351.95 L408.50,353.10 L410.40,353.10 L410.40,354.25 L412.30,354.25 L412.30,355.40 L415.40,355.40 L415.40,356.60 L421.50,356.60 L421.50,357.70 L423.80,357.70 L423.80,359.20 L441.50,359.20 L442.30,359.20 L442.30,360.80 L443.45,360.80 L443.45,361.95 L444.60,361.95 L444.60,363.10 L446.90,363.10 L446.90,364.25 L449.20,364.25 L449.20,365.40 L452.30,365.40 L452.30,367.20 L504.60,367.20" fill="none" stroke="#5e1440" stroke-width="1.4" stroke-linejoin="miter"/>
<path d="M441.50,357.20v2.2M453.00,365.20v2.2M459.00,365.20v2.2M464.00,365.20v2.2M474.00,365.20v2.2M476.00,365.20v2.2M483.00,365.20v2.2M485.00,365.20v2.2M496.00,365.20v2.2M498.00,365.20v2.2M504.00,365.20v2.2" stroke="#5e1440" stroke-width="0.9"/>
</svg></body></html>
